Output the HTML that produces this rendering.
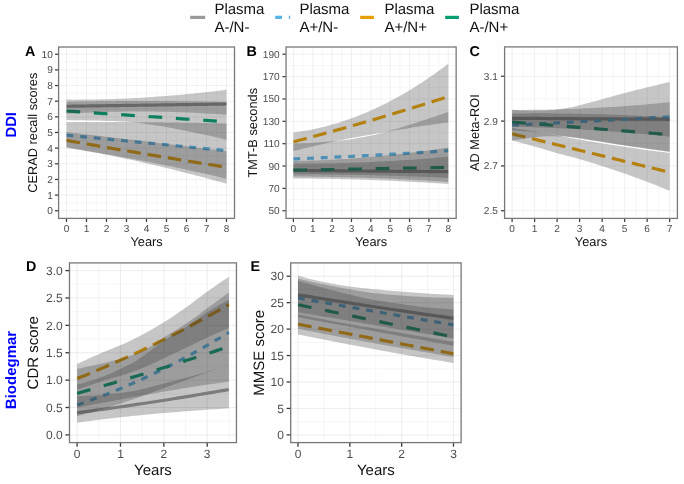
<!DOCTYPE html>
<html><head><meta charset="utf-8"><title>Figure</title>
<style>html,body{margin:0;padding:0;background:#fefefe;}body{width:684px;height:484px;overflow:hidden;font-family:"Liberation Sans", sans-serif;}svg{display:block;will-change:transform;text-rendering:geometricPrecision;}</style></head>
<body>
<svg width="684" height="484" viewBox="0 0 684 484" font-family='"Liberation Sans", sans-serif'>
<rect width="684" height="484" fill="#fefefe"/>
<line x1="190.20" x2="205.20" y1="17.4" y2="17.4" stroke="#999999" stroke-width="3.2"/>
<text x="214.40" y="13.7" font-size="15" fill="#111">Plasma</text>
<text x="214.40" y="31.7" font-size="15" fill="#111">A-/N-</text>
<line x1="275.20" x2="290.20" y1="17.4" y2="17.4" stroke="#56B4E9" stroke-width="3.2" stroke-dasharray="6.85 6.85"/>
<text x="299.40" y="13.7" font-size="15" fill="#111">Plasma</text>
<text x="299.40" y="31.7" font-size="15" fill="#111">A+/N-</text>
<line x1="360.20" x2="375.20" y1="17.4" y2="17.4" stroke="#E69F00" stroke-width="3.2" stroke-dasharray="13.7 6.85"/>
<text x="384.40" y="13.7" font-size="15" fill="#111">Plasma</text>
<text x="384.40" y="31.7" font-size="15" fill="#111">A+/N+</text>
<line x1="445.20" x2="460.20" y1="17.4" y2="17.4" stroke="#009E73" stroke-width="3.2" stroke-dasharray="13.7 13.7"/>
<text x="469.40" y="13.7" font-size="15" fill="#111">Plasma</text>
<text x="469.40" y="31.7" font-size="15" fill="#111">A-/N+</text>
<g>
<rect x="58.6" y="47.0" width="175.90" height="171.40" fill="#ffffff"/>
<line x1="58.6" x2="234.5" y1="202.93" y2="202.93" stroke="#efefef" stroke-width="0.5"/>
<line x1="58.6" x2="234.5" y1="187.28" y2="187.28" stroke="#efefef" stroke-width="0.5"/>
<line x1="58.6" x2="234.5" y1="171.62" y2="171.62" stroke="#efefef" stroke-width="0.5"/>
<line x1="58.6" x2="234.5" y1="155.97" y2="155.97" stroke="#efefef" stroke-width="0.5"/>
<line x1="58.6" x2="234.5" y1="140.32" y2="140.32" stroke="#efefef" stroke-width="0.5"/>
<line x1="58.6" x2="234.5" y1="124.67" y2="124.67" stroke="#efefef" stroke-width="0.5"/>
<line x1="58.6" x2="234.5" y1="109.02" y2="109.02" stroke="#efefef" stroke-width="0.5"/>
<line x1="58.6" x2="234.5" y1="93.38" y2="93.38" stroke="#efefef" stroke-width="0.5"/>
<line x1="58.6" x2="234.5" y1="77.72" y2="77.72" stroke="#efefef" stroke-width="0.5"/>
<line x1="58.6" x2="234.5" y1="62.07" y2="62.07" stroke="#efefef" stroke-width="0.5"/>
<line y1="47.0" y2="218.4" x1="76.50" x2="76.50" stroke="#efefef" stroke-width="0.5"/>
<line y1="47.0" y2="218.4" x1="96.50" x2="96.50" stroke="#efefef" stroke-width="0.5"/>
<line y1="47.0" y2="218.4" x1="116.50" x2="116.50" stroke="#efefef" stroke-width="0.5"/>
<line y1="47.0" y2="218.4" x1="136.50" x2="136.50" stroke="#efefef" stroke-width="0.5"/>
<line y1="47.0" y2="218.4" x1="156.50" x2="156.50" stroke="#efefef" stroke-width="0.5"/>
<line y1="47.0" y2="218.4" x1="176.50" x2="176.50" stroke="#efefef" stroke-width="0.5"/>
<line y1="47.0" y2="218.4" x1="196.50" x2="196.50" stroke="#efefef" stroke-width="0.5"/>
<line y1="47.0" y2="218.4" x1="216.50" x2="216.50" stroke="#efefef" stroke-width="0.5"/>
<line x1="58.6" x2="234.5" y1="210.75" y2="210.75" stroke="#e9e9e9" stroke-width="0.7"/>
<line x1="58.6" x2="234.5" y1="195.10" y2="195.10" stroke="#e9e9e9" stroke-width="0.7"/>
<line x1="58.6" x2="234.5" y1="179.45" y2="179.45" stroke="#e9e9e9" stroke-width="0.7"/>
<line x1="58.6" x2="234.5" y1="163.80" y2="163.80" stroke="#e9e9e9" stroke-width="0.7"/>
<line x1="58.6" x2="234.5" y1="148.15" y2="148.15" stroke="#e9e9e9" stroke-width="0.7"/>
<line x1="58.6" x2="234.5" y1="132.50" y2="132.50" stroke="#e9e9e9" stroke-width="0.7"/>
<line x1="58.6" x2="234.5" y1="116.85" y2="116.85" stroke="#e9e9e9" stroke-width="0.7"/>
<line x1="58.6" x2="234.5" y1="101.20" y2="101.20" stroke="#e9e9e9" stroke-width="0.7"/>
<line x1="58.6" x2="234.5" y1="85.55" y2="85.55" stroke="#e9e9e9" stroke-width="0.7"/>
<line x1="58.6" x2="234.5" y1="69.90" y2="69.90" stroke="#e9e9e9" stroke-width="0.7"/>
<line x1="58.6" x2="234.5" y1="54.25" y2="54.25" stroke="#e9e9e9" stroke-width="0.7"/>
<line y1="47.0" y2="218.4" x1="66.50" x2="66.50" stroke="#e9e9e9" stroke-width="0.7"/>
<line y1="47.0" y2="218.4" x1="86.50" x2="86.50" stroke="#e9e9e9" stroke-width="0.7"/>
<line y1="47.0" y2="218.4" x1="106.50" x2="106.50" stroke="#e9e9e9" stroke-width="0.7"/>
<line y1="47.0" y2="218.4" x1="126.50" x2="126.50" stroke="#e9e9e9" stroke-width="0.7"/>
<line y1="47.0" y2="218.4" x1="146.50" x2="146.50" stroke="#e9e9e9" stroke-width="0.7"/>
<line y1="47.0" y2="218.4" x1="166.50" x2="166.50" stroke="#e9e9e9" stroke-width="0.7"/>
<line y1="47.0" y2="218.4" x1="186.50" x2="186.50" stroke="#e9e9e9" stroke-width="0.7"/>
<line y1="47.0" y2="218.4" x1="206.50" x2="206.50" stroke="#e9e9e9" stroke-width="0.7"/>
<line y1="47.0" y2="218.4" x1="226.50" x2="226.50" stroke="#e9e9e9" stroke-width="0.7"/>
<path d="M66.50,106.30 L69.90,106.25 L73.31,106.20 L76.71,106.15 L80.12,106.10 L83.52,106.06 L86.93,106.01 L90.33,105.96 L93.73,105.91 L97.14,105.86 L100.54,105.81 L103.95,105.76 L107.35,105.71 L110.76,105.66 L114.16,105.61 L117.56,105.57 L120.97,105.52 L124.37,105.47 L127.78,105.42 L131.18,105.37 L134.59,105.32 L137.99,105.27 L141.39,105.22 L144.80,105.17 L148.20,105.13 L151.61,105.08 L155.01,105.03 L158.41,104.98 L161.82,104.93 L165.22,104.88 L168.63,104.83 L172.03,104.78 L175.44,104.73 L178.84,104.69 L182.24,104.64 L185.65,104.59 L189.05,104.54 L192.46,104.49 L195.86,104.44 L199.27,104.39 L202.67,104.34 L206.07,104.29 L209.48,104.24 L212.88,104.20 L216.29,104.15 L219.69,104.10 L223.10,104.05 L226.50,104.00" fill="none" stroke="#999999" stroke-width="3.2" stroke-linejoin="round"/>
<path d="M66.50,135.20 L69.90,135.53 L73.31,135.86 L76.71,136.18 L80.12,136.51 L83.52,136.84 L86.93,137.17 L90.33,137.49 L93.73,137.82 L97.14,138.15 L100.54,138.48 L103.95,138.80 L107.35,139.13 L110.76,139.46 L114.16,139.79 L117.56,140.11 L120.97,140.44 L124.37,140.77 L127.78,141.10 L131.18,141.43 L134.59,141.75 L137.99,142.08 L141.39,142.41 L144.80,142.74 L148.20,143.06 L151.61,143.39 L155.01,143.72 L158.41,144.05 L161.82,144.37 L165.22,144.70 L168.63,145.03 L172.03,145.36 L175.44,145.69 L178.84,146.01 L182.24,146.34 L185.65,146.67 L189.05,147.00 L192.46,147.32 L195.86,147.65 L199.27,147.98 L202.67,148.31 L206.07,148.63 L209.48,148.96 L212.88,149.29 L216.29,149.62 L219.69,149.94 L223.10,150.27 L226.50,150.60" fill="none" stroke="#56B4E9" stroke-width="3.2" stroke-linejoin="round" stroke-dasharray="6.850 6.850"/>
<path d="M66.50,140.40 L69.90,141.00 L73.31,141.61 L76.71,142.21 L80.12,142.81 L83.52,143.40 L86.93,144.00 L90.33,144.59 L93.73,145.19 L97.14,145.78 L100.54,146.37 L103.95,146.96 L107.35,147.55 L110.76,148.13 L114.16,148.72 L117.56,149.30 L120.97,149.88 L124.37,150.46 L127.78,151.04 L131.18,151.62 L134.59,152.20 L137.99,152.77 L141.39,153.34 L144.80,153.91 L148.20,154.48 L151.61,155.05 L155.01,155.62 L158.41,156.19 L161.82,156.75 L165.22,157.31 L168.63,157.88 L172.03,158.44 L175.44,158.99 L178.84,159.55 L182.24,160.11 L185.65,160.66 L189.05,161.21 L192.46,161.77 L195.86,162.32 L199.27,162.86 L202.67,163.41 L206.07,163.96 L209.48,164.50 L212.88,165.04 L216.29,165.58 L219.69,166.12 L223.10,166.66 L226.50,167.20" fill="none" stroke="#E69F00" stroke-width="3.2" stroke-linejoin="round" stroke-dasharray="13.700 6.850"/>
<path d="M66.50,111.00 L69.90,111.23 L73.31,111.46 L76.71,111.69 L80.12,111.92 L83.52,112.15 L86.93,112.38 L90.33,112.61 L93.73,112.84 L97.14,113.07 L100.54,113.30 L103.95,113.53 L107.35,113.76 L110.76,113.99 L114.16,114.22 L117.56,114.45 L120.97,114.68 L124.37,114.91 L127.78,115.14 L131.18,115.37 L134.59,115.60 L137.99,115.83 L141.39,116.06 L144.80,116.29 L148.20,116.51 L151.61,116.74 L155.01,116.97 L158.41,117.20 L161.82,117.43 L165.22,117.66 L168.63,117.89 L172.03,118.12 L175.44,118.35 L178.84,118.58 L182.24,118.81 L185.65,119.04 L189.05,119.27 L192.46,119.50 L195.86,119.73 L199.27,119.96 L202.67,120.19 L206.07,120.42 L209.48,120.65 L212.88,120.88 L216.29,121.11 L219.69,121.34 L223.10,121.57 L226.50,121.80" fill="none" stroke="#009E73" stroke-width="3.2" stroke-linejoin="round" stroke-dasharray="13.700 13.700"/>
<path d="M66.50,99.60 L69.90,99.62 L73.31,99.63 L76.71,99.63 L80.12,99.61 L83.52,99.59 L86.93,99.56 L90.33,99.52 L93.73,99.47 L97.14,99.41 L100.54,99.34 L103.95,99.25 L107.35,99.16 L110.76,99.06 L114.16,98.95 L117.56,98.83 L120.97,98.70 L124.37,98.56 L127.78,98.41 L131.18,98.25 L134.59,98.08 L137.99,97.90 L141.39,97.70 L144.80,97.50 L148.20,97.29 L151.61,97.07 L155.01,96.84 L158.41,96.60 L161.82,96.35 L165.22,96.09 L168.63,95.82 L172.03,95.54 L175.44,95.25 L178.84,94.95 L182.24,94.64 L185.65,94.32 L189.05,93.99 L192.46,93.65 L195.86,93.30 L199.27,92.94 L202.67,92.57 L206.07,92.19 L209.48,91.80 L212.88,91.40 L216.29,90.99 L219.69,90.57 L223.10,90.14 L226.50,89.70 L226.50,114.80 L223.10,114.55 L219.69,114.30 L216.29,114.07 L212.88,113.84 L209.48,113.63 L206.07,113.43 L202.67,113.23 L199.27,113.05 L195.86,112.87 L192.46,112.71 L189.05,112.56 L185.65,112.42 L182.24,112.28 L178.84,112.16 L175.44,112.05 L172.03,111.94 L168.63,111.85 L165.22,111.77 L161.82,111.70 L158.41,111.64 L155.01,111.58 L151.61,111.54 L148.20,111.51 L144.80,111.49 L141.39,111.48 L137.99,111.48 L134.59,111.49 L131.18,111.51 L127.78,111.54 L124.37,111.58 L120.97,111.63 L117.56,111.69 L114.16,111.76 L110.76,111.84 L107.35,111.93 L103.95,112.03 L100.54,112.14 L97.14,112.26 L93.73,112.39 L90.33,112.53 L86.93,112.68 L83.52,112.84 L80.12,113.01 L76.71,113.19 L73.31,113.39 L69.90,113.59 L66.50,113.80 Z" fill="#333333" fill-opacity="0.28"/>
<path d="M66.50,122.00 L69.90,121.99 L73.31,121.97 L76.71,121.96 L80.12,121.96 L83.52,121.95 L86.93,121.95 L90.33,121.94 L93.73,121.94 L97.14,121.95 L100.54,121.95 L103.95,121.96 L107.35,121.96 L110.76,121.97 L114.16,121.99 L117.56,122.00 L120.97,122.02 L124.37,122.03 L127.78,122.05 L131.18,122.08 L134.59,122.10 L137.99,122.13 L141.39,122.15 L144.80,122.18 L148.20,122.22 L151.61,122.25 L155.01,122.29 L158.41,122.32 L161.82,122.36 L165.22,122.41 L168.63,122.45 L172.03,122.50 L175.44,122.54 L178.84,122.59 L182.24,122.64 L185.65,122.70 L189.05,122.75 L192.46,122.81 L195.86,122.87 L199.27,122.93 L202.67,123.00 L206.07,123.06 L209.48,123.13 L212.88,123.20 L216.29,123.27 L219.69,123.35 L223.10,123.42 L226.50,123.50 L226.50,178.75 L223.10,177.94 L219.69,177.13 L216.29,176.33 L212.88,175.54 L209.48,174.76 L206.07,173.98 L202.67,173.21 L199.27,172.45 L195.86,171.69 L192.46,170.94 L189.05,170.20 L185.65,169.46 L182.24,168.73 L178.84,168.01 L175.44,167.29 L172.03,166.59 L168.63,165.89 L165.22,165.19 L161.82,164.51 L158.41,163.83 L155.01,163.15 L151.61,162.49 L148.20,161.83 L144.80,161.17 L141.39,160.53 L137.99,159.89 L134.59,159.26 L131.18,158.64 L127.78,158.02 L124.37,157.41 L120.97,156.81 L117.56,156.21 L114.16,155.62 L110.76,155.04 L107.35,154.46 L103.95,153.89 L100.54,153.33 L97.14,152.78 L93.73,152.23 L90.33,151.69 L86.93,151.16 L83.52,150.63 L80.12,150.11 L76.71,149.60 L73.31,149.09 L69.90,148.59 L66.50,148.10 Z" fill="#333333" fill-opacity="0.28"/>
<path d="M66.50,132.20 L69.90,132.59 L73.31,132.97 L76.71,133.36 L80.12,133.75 L83.52,134.14 L86.93,134.53 L90.33,134.92 L93.73,135.32 L97.14,135.71 L100.54,136.10 L103.95,136.50 L107.35,136.89 L110.76,137.29 L114.16,137.69 L117.56,138.08 L120.97,138.48 L124.37,138.88 L127.78,139.28 L131.18,139.68 L134.59,140.09 L137.99,140.49 L141.39,140.89 L144.80,141.30 L148.20,141.70 L151.61,142.11 L155.01,142.52 L158.41,142.92 L161.82,143.33 L165.22,143.74 L168.63,144.15 L172.03,144.56 L175.44,144.97 L178.84,145.39 L182.24,145.80 L185.65,146.22 L189.05,146.63 L192.46,147.05 L195.86,147.46 L199.27,147.88 L202.67,148.30 L206.07,148.72 L209.48,149.14 L212.88,149.56 L216.29,149.98 L219.69,150.40 L223.10,150.83 L226.50,151.25 L226.50,183.75 L223.10,182.79 L219.69,181.84 L216.29,180.90 L212.88,179.97 L209.48,179.04 L206.07,178.12 L202.67,177.21 L199.27,176.31 L195.86,175.42 L192.46,174.53 L189.05,173.65 L185.65,172.78 L182.24,171.91 L178.84,171.06 L175.44,170.21 L172.03,169.36 L168.63,168.53 L165.22,167.71 L161.82,166.89 L158.41,166.08 L155.01,165.27 L151.61,164.48 L148.20,163.69 L144.80,162.91 L141.39,162.14 L137.99,161.37 L134.59,160.62 L131.18,159.87 L127.78,159.13 L124.37,158.39 L120.97,157.67 L117.56,156.95 L114.16,156.24 L110.76,155.54 L107.35,154.84 L103.95,154.15 L100.54,153.47 L97.14,152.80 L93.73,152.14 L90.33,151.48 L86.93,150.83 L83.52,150.19 L80.12,149.56 L76.71,148.93 L73.31,148.31 L69.90,147.70 L66.50,147.10 Z" fill="#333333" fill-opacity="0.28"/>
<path d="M66.50,101.90 L69.90,101.82 L73.31,101.75 L76.71,101.68 L80.12,101.61 L83.52,101.55 L86.93,101.49 L90.33,101.43 L93.73,101.38 L97.14,101.33 L100.54,101.28 L103.95,101.24 L107.35,101.20 L110.76,101.17 L114.16,101.14 L117.56,101.11 L120.97,101.08 L124.37,101.06 L127.78,101.04 L131.18,101.03 L134.59,101.01 L137.99,101.01 L141.39,101.00 L144.80,101.00 L148.20,101.00 L151.61,101.01 L155.01,101.02 L158.41,101.03 L161.82,101.04 L165.22,101.06 L168.63,101.09 L172.03,101.11 L175.44,101.14 L178.84,101.18 L182.24,101.21 L185.65,101.25 L189.05,101.30 L192.46,101.34 L195.86,101.39 L199.27,101.45 L202.67,101.50 L206.07,101.56 L209.48,101.63 L212.88,101.70 L216.29,101.77 L219.69,101.84 L223.10,101.92 L226.50,102.00 L226.50,139.70 L223.10,138.90 L219.69,138.12 L216.29,137.35 L212.88,136.58 L209.48,135.83 L206.07,135.08 L202.67,134.35 L199.27,133.63 L195.86,132.91 L192.46,132.21 L189.05,131.51 L185.65,130.83 L182.24,130.14 L178.84,129.46 L175.44,128.78 L172.03,128.11 L168.63,127.46 L165.22,126.84 L161.82,126.25 L158.41,125.69 L155.01,125.18 L151.61,124.67 L148.20,124.16 L144.80,123.66 L141.39,123.19 L137.99,122.76 L134.59,122.37 L131.18,122.04 L127.78,121.78 L124.37,121.58 L120.97,121.41 L117.56,121.26 L114.16,121.12 L110.76,121.00 L107.35,120.89 L103.95,120.79 L100.54,120.70 L97.14,120.61 L93.73,120.54 L90.33,120.46 L86.93,120.39 L83.52,120.33 L80.12,120.27 L76.71,120.21 L73.31,120.17 L69.90,120.13 L66.50,120.10 Z" fill="#333333" fill-opacity="0.28"/>
<rect x="58.6" y="47.0" width="175.90" height="171.40" fill="none" stroke="#787878" stroke-width="1.3"/>
<line x1="55.00" x2="58.10" y1="210.75" y2="210.75" stroke="#3c3c3c" stroke-width="1.25"/>
<text x="52.80" y="214.26" font-size="10.1" fill="#4d4d4d" text-anchor="end">0</text>
<line x1="55.00" x2="58.10" y1="195.10" y2="195.10" stroke="#3c3c3c" stroke-width="1.25"/>
<text x="52.80" y="198.61" font-size="10.1" fill="#4d4d4d" text-anchor="end">1</text>
<line x1="55.00" x2="58.10" y1="179.45" y2="179.45" stroke="#3c3c3c" stroke-width="1.25"/>
<text x="52.80" y="182.96" font-size="10.1" fill="#4d4d4d" text-anchor="end">2</text>
<line x1="55.00" x2="58.10" y1="163.80" y2="163.80" stroke="#3c3c3c" stroke-width="1.25"/>
<text x="52.80" y="167.31" font-size="10.1" fill="#4d4d4d" text-anchor="end">3</text>
<line x1="55.00" x2="58.10" y1="148.15" y2="148.15" stroke="#3c3c3c" stroke-width="1.25"/>
<text x="52.80" y="151.66" font-size="10.1" fill="#4d4d4d" text-anchor="end">4</text>
<line x1="55.00" x2="58.10" y1="132.50" y2="132.50" stroke="#3c3c3c" stroke-width="1.25"/>
<text x="52.80" y="136.01" font-size="10.1" fill="#4d4d4d" text-anchor="end">5</text>
<line x1="55.00" x2="58.10" y1="116.85" y2="116.85" stroke="#3c3c3c" stroke-width="1.25"/>
<text x="52.80" y="120.36" font-size="10.1" fill="#4d4d4d" text-anchor="end">6</text>
<line x1="55.00" x2="58.10" y1="101.20" y2="101.20" stroke="#3c3c3c" stroke-width="1.25"/>
<text x="52.80" y="104.71" font-size="10.1" fill="#4d4d4d" text-anchor="end">7</text>
<line x1="55.00" x2="58.10" y1="85.55" y2="85.55" stroke="#3c3c3c" stroke-width="1.25"/>
<text x="52.80" y="89.06" font-size="10.1" fill="#4d4d4d" text-anchor="end">8</text>
<line x1="55.00" x2="58.10" y1="69.90" y2="69.90" stroke="#3c3c3c" stroke-width="1.25"/>
<text x="52.80" y="73.41" font-size="10.1" fill="#4d4d4d" text-anchor="end">9</text>
<line x1="55.00" x2="58.10" y1="54.25" y2="54.25" stroke="#3c3c3c" stroke-width="1.25"/>
<text x="52.80" y="57.76" font-size="10.1" fill="#4d4d4d" text-anchor="end">10</text>
<line y1="218.90" y2="222.00" x1="66.50" x2="66.50" stroke="#3c3c3c" stroke-width="1.25"/>
<text x="66.50" y="231.80" font-size="10.1" fill="#4d4d4d" text-anchor="middle">0</text>
<line y1="218.90" y2="222.00" x1="86.50" x2="86.50" stroke="#3c3c3c" stroke-width="1.25"/>
<text x="86.50" y="231.80" font-size="10.1" fill="#4d4d4d" text-anchor="middle">1</text>
<line y1="218.90" y2="222.00" x1="106.50" x2="106.50" stroke="#3c3c3c" stroke-width="1.25"/>
<text x="106.50" y="231.80" font-size="10.1" fill="#4d4d4d" text-anchor="middle">2</text>
<line y1="218.90" y2="222.00" x1="126.50" x2="126.50" stroke="#3c3c3c" stroke-width="1.25"/>
<text x="126.50" y="231.80" font-size="10.1" fill="#4d4d4d" text-anchor="middle">3</text>
<line y1="218.90" y2="222.00" x1="146.50" x2="146.50" stroke="#3c3c3c" stroke-width="1.25"/>
<text x="146.50" y="231.80" font-size="10.1" fill="#4d4d4d" text-anchor="middle">4</text>
<line y1="218.90" y2="222.00" x1="166.50" x2="166.50" stroke="#3c3c3c" stroke-width="1.25"/>
<text x="166.50" y="231.80" font-size="10.1" fill="#4d4d4d" text-anchor="middle">5</text>
<line y1="218.90" y2="222.00" x1="186.50" x2="186.50" stroke="#3c3c3c" stroke-width="1.25"/>
<text x="186.50" y="231.80" font-size="10.1" fill="#4d4d4d" text-anchor="middle">6</text>
<line y1="218.90" y2="222.00" x1="206.50" x2="206.50" stroke="#3c3c3c" stroke-width="1.25"/>
<text x="206.50" y="231.80" font-size="10.1" fill="#4d4d4d" text-anchor="middle">7</text>
<line y1="218.90" y2="222.00" x1="226.50" x2="226.50" stroke="#3c3c3c" stroke-width="1.25"/>
<text x="226.50" y="231.80" font-size="10.1" fill="#4d4d4d" text-anchor="middle">8</text>
<text x="146.55" y="246.40" font-size="12.8" fill="#111" text-anchor="middle">Years</text>
<text transform="translate(36.70,132.70) rotate(-90)" font-size="12.8" fill="#111" text-anchor="middle">CERAD recall scores</text>
<text x="25.10" y="56.30" font-size="14.3" font-weight="bold" fill="#000">A</text>
</g>
<g>
<rect x="286.05" y="47.0" width="170.10" height="171.40" fill="#ffffff"/>
<line x1="286.05" x2="456.15" y1="199.57" y2="199.57" stroke="#efefef" stroke-width="0.5"/>
<line x1="286.05" x2="456.15" y1="177.21" y2="177.21" stroke="#efefef" stroke-width="0.5"/>
<line x1="286.05" x2="456.15" y1="154.86" y2="154.86" stroke="#efefef" stroke-width="0.5"/>
<line x1="286.05" x2="456.15" y1="132.50" y2="132.50" stroke="#efefef" stroke-width="0.5"/>
<line x1="286.05" x2="456.15" y1="110.14" y2="110.14" stroke="#efefef" stroke-width="0.5"/>
<line x1="286.05" x2="456.15" y1="87.78" y2="87.78" stroke="#efefef" stroke-width="0.5"/>
<line x1="286.05" x2="456.15" y1="65.42" y2="65.42" stroke="#efefef" stroke-width="0.5"/>
<line y1="47.0" y2="218.4" x1="303.08" x2="303.08" stroke="#efefef" stroke-width="0.5"/>
<line y1="47.0" y2="218.4" x1="322.44" x2="322.44" stroke="#efefef" stroke-width="0.5"/>
<line y1="47.0" y2="218.4" x1="341.80" x2="341.80" stroke="#efefef" stroke-width="0.5"/>
<line y1="47.0" y2="218.4" x1="361.16" x2="361.16" stroke="#efefef" stroke-width="0.5"/>
<line y1="47.0" y2="218.4" x1="380.52" x2="380.52" stroke="#efefef" stroke-width="0.5"/>
<line y1="47.0" y2="218.4" x1="399.88" x2="399.88" stroke="#efefef" stroke-width="0.5"/>
<line y1="47.0" y2="218.4" x1="419.24" x2="419.24" stroke="#efefef" stroke-width="0.5"/>
<line y1="47.0" y2="218.4" x1="438.60" x2="438.60" stroke="#efefef" stroke-width="0.5"/>
<line x1="286.05" x2="456.15" y1="210.75" y2="210.75" stroke="#e9e9e9" stroke-width="0.7"/>
<line x1="286.05" x2="456.15" y1="188.39" y2="188.39" stroke="#e9e9e9" stroke-width="0.7"/>
<line x1="286.05" x2="456.15" y1="166.03" y2="166.03" stroke="#e9e9e9" stroke-width="0.7"/>
<line x1="286.05" x2="456.15" y1="143.68" y2="143.68" stroke="#e9e9e9" stroke-width="0.7"/>
<line x1="286.05" x2="456.15" y1="121.32" y2="121.32" stroke="#e9e9e9" stroke-width="0.7"/>
<line x1="286.05" x2="456.15" y1="98.96" y2="98.96" stroke="#e9e9e9" stroke-width="0.7"/>
<line x1="286.05" x2="456.15" y1="76.60" y2="76.60" stroke="#e9e9e9" stroke-width="0.7"/>
<line x1="286.05" x2="456.15" y1="54.24" y2="54.24" stroke="#e9e9e9" stroke-width="0.7"/>
<line y1="47.0" y2="218.4" x1="293.40" x2="293.40" stroke="#e9e9e9" stroke-width="0.7"/>
<line y1="47.0" y2="218.4" x1="312.76" x2="312.76" stroke="#e9e9e9" stroke-width="0.7"/>
<line y1="47.0" y2="218.4" x1="332.12" x2="332.12" stroke="#e9e9e9" stroke-width="0.7"/>
<line y1="47.0" y2="218.4" x1="351.48" x2="351.48" stroke="#e9e9e9" stroke-width="0.7"/>
<line y1="47.0" y2="218.4" x1="370.84" x2="370.84" stroke="#e9e9e9" stroke-width="0.7"/>
<line y1="47.0" y2="218.4" x1="390.20" x2="390.20" stroke="#e9e9e9" stroke-width="0.7"/>
<line y1="47.0" y2="218.4" x1="409.56" x2="409.56" stroke="#e9e9e9" stroke-width="0.7"/>
<line y1="47.0" y2="218.4" x1="428.92" x2="428.92" stroke="#e9e9e9" stroke-width="0.7"/>
<line y1="47.0" y2="218.4" x1="448.28" x2="448.28" stroke="#e9e9e9" stroke-width="0.7"/>
<path d="M293.40,170.40 L296.70,170.43 L299.99,170.46 L303.29,170.48 L306.58,170.51 L309.88,170.54 L313.17,170.57 L316.47,170.59 L319.76,170.62 L323.06,170.65 L326.35,170.68 L329.65,170.70 L332.94,170.73 L336.24,170.76 L339.53,170.79 L342.83,170.81 L346.13,170.84 L349.42,170.87 L352.72,170.90 L356.01,170.93 L359.31,170.95 L362.60,170.98 L365.90,171.01 L369.19,171.04 L372.49,171.06 L375.78,171.09 L379.08,171.12 L382.37,171.15 L385.67,171.17 L388.96,171.20 L392.26,171.23 L395.55,171.26 L398.85,171.29 L402.15,171.31 L405.44,171.34 L408.74,171.37 L412.03,171.40 L415.33,171.42 L418.62,171.45 L421.92,171.48 L425.21,171.51 L428.51,171.53 L431.80,171.56 L435.10,171.59 L438.39,171.62 L441.69,171.64 L444.98,171.67 L448.28,171.70" fill="none" stroke="#999999" stroke-width="3.2" stroke-linejoin="round"/>
<path d="M293.40,158.90 L296.70,158.78 L299.99,158.65 L303.29,158.52 L306.58,158.39 L309.88,158.26 L313.17,158.12 L316.47,157.98 L319.76,157.84 L323.06,157.70 L326.35,157.56 L329.65,157.41 L332.94,157.26 L336.24,157.11 L339.53,156.96 L342.83,156.80 L346.13,156.65 L349.42,156.49 L352.72,156.33 L356.01,156.16 L359.31,156.00 L362.60,155.83 L365.90,155.66 L369.19,155.49 L372.49,155.31 L375.78,155.14 L379.08,154.96 L382.37,154.78 L385.67,154.59 L388.96,154.41 L392.26,154.22 L395.55,154.03 L398.85,153.84 L402.15,153.64 L405.44,153.45 L408.74,153.25 L412.03,153.05 L415.33,152.85 L418.62,152.64 L421.92,152.43 L425.21,152.23 L428.51,152.01 L431.80,151.80 L435.10,151.58 L438.39,151.37 L441.69,151.15 L444.98,150.92 L448.28,150.70" fill="none" stroke="#56B4E9" stroke-width="3.2" stroke-linejoin="round" stroke-dasharray="6.850 6.850"/>
<path d="M293.40,141.80 L296.70,140.94 L299.99,140.07 L303.29,139.20 L306.58,138.33 L309.88,137.45 L313.17,136.56 L316.47,135.68 L319.76,134.78 L323.06,133.89 L326.35,132.99 L329.65,132.08 L332.94,131.17 L336.24,130.26 L339.53,129.34 L342.83,128.42 L346.13,127.49 L349.42,126.56 L352.72,125.62 L356.01,124.68 L359.31,123.74 L362.60,122.79 L365.90,121.84 L369.19,120.88 L372.49,119.92 L375.78,118.95 L379.08,117.98 L382.37,117.01 L385.67,116.03 L388.96,115.04 L392.26,114.06 L395.55,113.07 L398.85,112.07 L402.15,111.07 L405.44,110.06 L408.74,109.05 L412.03,108.04 L415.33,107.02 L418.62,106.00 L421.92,104.97 L425.21,103.94 L428.51,102.90 L431.80,101.86 L435.10,100.82 L438.39,99.77 L441.69,98.72 L444.98,97.66 L448.28,96.60" fill="none" stroke="#E69F00" stroke-width="3.2" stroke-linejoin="round" stroke-dasharray="13.700 6.850"/>
<path d="M293.40,170.20 L296.70,170.14 L299.99,170.08 L303.29,170.02 L306.58,169.96 L309.88,169.90 L313.17,169.84 L316.47,169.78 L319.76,169.72 L323.06,169.66 L326.35,169.60 L329.65,169.54 L332.94,169.49 L336.24,169.43 L339.53,169.37 L342.83,169.31 L346.13,169.25 L349.42,169.19 L352.72,169.13 L356.01,169.07 L359.31,169.01 L362.60,168.95 L365.90,168.89 L369.19,168.83 L372.49,168.77 L375.78,168.71 L379.08,168.65 L382.37,168.59 L385.67,168.53 L388.96,168.47 L392.26,168.41 L395.55,168.35 L398.85,168.29 L402.15,168.23 L405.44,168.17 L408.74,168.11 L412.03,168.06 L415.33,168.00 L418.62,167.94 L421.92,167.88 L425.21,167.82 L428.51,167.76 L431.80,167.70 L435.10,167.64 L438.39,167.58 L441.69,167.52 L444.98,167.46 L448.28,167.40" fill="none" stroke="#009E73" stroke-width="3.2" stroke-linejoin="round" stroke-dasharray="13.700 13.700"/>
<path d="M293.40,163.50 L296.70,163.51 L299.99,163.52 L303.29,163.52 L306.58,163.51 L309.88,163.50 L313.17,163.48 L316.47,163.45 L319.76,163.42 L323.06,163.37 L326.35,163.33 L329.65,163.27 L332.94,163.21 L336.24,163.14 L339.53,163.06 L342.83,162.98 L346.13,162.89 L349.42,162.80 L352.72,162.69 L356.01,162.58 L359.31,162.46 L362.60,162.34 L365.90,162.21 L369.19,162.07 L372.49,161.93 L375.78,161.78 L379.08,161.62 L382.37,161.45 L385.67,161.28 L388.96,161.10 L392.26,160.91 L395.55,160.72 L398.85,160.52 L402.15,160.32 L405.44,160.10 L408.74,159.88 L412.03,159.65 L415.33,159.42 L418.62,159.18 L421.92,158.93 L425.21,158.68 L428.51,158.41 L431.80,158.15 L435.10,157.87 L438.39,157.59 L441.69,157.30 L444.98,157.00 L448.28,156.70 L448.28,182.00 L444.98,181.78 L441.69,181.56 L438.39,181.35 L435.10,181.14 L431.80,180.94 L428.51,180.74 L425.21,180.55 L421.92,180.36 L418.62,180.17 L415.33,179.99 L412.03,179.82 L408.74,179.65 L405.44,179.48 L402.15,179.32 L398.85,179.16 L395.55,179.00 L392.26,178.86 L388.96,178.71 L385.67,178.57 L382.37,178.44 L379.08,178.31 L375.78,178.18 L372.49,178.06 L369.19,177.94 L365.90,177.83 L362.60,177.72 L359.31,177.62 L356.01,177.52 L352.72,177.42 L349.42,177.33 L346.13,177.25 L342.83,177.17 L339.53,177.09 L336.24,177.02 L332.94,176.95 L329.65,176.89 L326.35,176.83 L323.06,176.78 L319.76,176.73 L316.47,176.69 L313.17,176.65 L309.88,176.61 L306.58,176.58 L303.29,176.55 L299.99,176.53 L296.70,176.51 L293.40,176.50 Z" fill="#333333" fill-opacity="0.28"/>
<path d="M293.40,143.60 L296.70,143.55 L299.99,143.46 L303.29,143.35 L306.58,143.20 L309.88,143.02 L313.17,142.82 L316.47,142.60 L319.76,142.36 L323.06,142.11 L326.35,141.84 L329.65,141.56 L332.94,141.27 L336.24,140.98 L339.53,140.65 L342.83,140.28 L346.13,139.85 L349.42,139.38 L352.72,138.88 L356.01,138.34 L359.31,137.77 L362.60,137.17 L365.90,136.55 L369.19,135.92 L372.49,135.26 L375.78,134.52 L379.08,133.70 L382.37,132.84 L385.67,131.96 L388.96,131.05 L392.26,130.10 L395.55,129.13 L398.85,128.14 L402.15,127.12 L405.44,126.09 L408.74,125.06 L412.03,124.02 L415.33,122.97 L418.62,121.91 L421.92,120.83 L425.21,119.75 L428.51,118.65 L431.80,117.54 L435.10,116.42 L438.39,115.28 L441.69,114.14 L444.98,112.97 L448.28,111.80 L448.28,177.80 L444.98,177.66 L441.69,177.52 L438.39,177.38 L435.10,177.24 L431.80,177.11 L428.51,176.98 L425.21,176.86 L421.92,176.74 L418.62,176.62 L415.33,176.50 L412.03,176.38 L408.74,176.27 L405.44,176.16 L402.15,176.06 L398.85,175.96 L395.55,175.86 L392.26,175.76 L388.96,175.67 L385.67,175.57 L382.37,175.49 L379.08,175.40 L375.78,175.32 L372.49,175.24 L369.19,175.16 L365.90,175.09 L362.60,175.02 L359.31,174.95 L356.01,174.88 L352.72,174.82 L349.42,174.76 L346.13,174.71 L342.83,174.65 L339.53,174.60 L336.24,174.56 L332.94,174.51 L329.65,174.47 L326.35,174.43 L323.06,174.39 L319.76,174.36 L316.47,174.33 L313.17,174.30 L309.88,174.28 L306.58,174.26 L303.29,174.24 L299.99,174.22 L296.70,174.21 L293.40,174.20 Z" fill="#333333" fill-opacity="0.28"/>
<path d="M293.40,132.50 L296.70,132.07 L299.99,131.59 L303.29,131.07 L306.58,130.51 L309.88,129.90 L313.17,129.24 L316.47,128.54 L319.76,127.79 L323.06,127.00 L326.35,126.17 L329.65,125.29 L332.94,124.36 L336.24,123.39 L339.53,122.38 L342.83,121.32 L346.13,120.22 L349.42,119.07 L352.72,117.87 L356.01,116.63 L359.31,115.35 L362.60,114.02 L365.90,112.65 L369.19,111.23 L372.49,109.76 L375.78,108.25 L379.08,106.70 L382.37,105.10 L385.67,103.46 L388.96,101.77 L392.26,100.04 L395.55,98.26 L398.85,96.44 L402.15,94.57 L405.44,92.65 L408.74,90.70 L412.03,88.69 L415.33,86.65 L418.62,84.55 L421.92,82.42 L425.21,80.23 L428.51,78.01 L431.80,75.73 L435.10,73.42 L438.39,71.06 L441.69,68.65 L444.98,66.20 L448.28,63.70 L448.28,122.40 L444.98,122.84 L441.69,123.28 L438.39,123.74 L435.10,124.20 L431.80,124.67 L428.51,125.14 L425.21,125.62 L421.92,126.11 L418.62,126.61 L415.33,127.11 L412.03,127.61 L408.74,128.13 L405.44,128.65 L402.15,129.19 L398.85,129.73 L395.55,130.28 L392.26,130.84 L388.96,131.41 L385.67,131.98 L382.37,132.56 L379.08,133.14 L375.78,133.72 L372.49,134.31 L369.19,134.89 L365.90,135.48 L362.60,136.07 L359.31,136.66 L356.01,137.25 L352.72,137.85 L349.42,138.46 L346.13,139.09 L342.83,139.72 L339.53,140.38 L336.24,141.05 L332.94,141.74 L329.65,142.44 L326.35,143.16 L323.06,143.89 L319.76,144.64 L316.47,145.40 L313.17,146.17 L309.88,146.96 L306.58,147.76 L303.29,148.58 L299.99,149.40 L296.70,150.25 L293.40,151.10 Z" fill="#333333" fill-opacity="0.28"/>
<path d="M293.40,161.00 L296.70,160.94 L299.99,160.88 L303.29,160.80 L306.58,160.71 L309.88,160.62 L313.17,160.51 L316.47,160.39 L319.76,160.27 L323.06,160.13 L326.35,159.98 L329.65,159.82 L332.94,159.66 L336.24,159.48 L339.53,159.29 L342.83,159.09 L346.13,158.89 L349.42,158.67 L352.72,158.44 L356.01,158.20 L359.31,157.95 L362.60,157.69 L365.90,157.42 L369.19,157.14 L372.49,156.85 L375.78,156.55 L379.08,156.24 L382.37,155.93 L385.67,155.60 L388.96,155.26 L392.26,154.90 L395.55,154.54 L398.85,154.17 L402.15,153.79 L405.44,153.40 L408.74,153.00 L412.03,152.59 L415.33,152.17 L418.62,151.74 L421.92,151.30 L425.21,150.85 L428.51,150.38 L431.80,149.91 L435.10,149.43 L438.39,148.94 L441.69,148.44 L444.98,147.92 L448.28,147.40 L448.28,184.00 L444.98,183.78 L441.69,183.57 L438.39,183.36 L435.10,183.15 L431.80,182.95 L428.51,182.75 L425.21,182.56 L421.92,182.37 L418.62,182.18 L415.33,182.00 L412.03,181.83 L408.74,181.66 L405.44,181.49 L402.15,181.33 L398.85,181.17 L395.55,181.02 L392.26,180.87 L388.96,180.72 L385.67,180.58 L382.37,180.44 L379.08,180.31 L375.78,180.18 L372.49,180.06 L369.19,179.94 L365.90,179.83 L362.60,179.72 L359.31,179.61 L356.01,179.51 L352.72,179.41 L349.42,179.32 L346.13,179.23 L342.83,179.14 L339.53,179.06 L336.24,178.99 L332.94,178.92 L329.65,178.85 L326.35,178.79 L323.06,178.73 L319.76,178.68 L316.47,178.63 L313.17,178.58 L309.88,178.54 L306.58,178.50 L303.29,178.47 L299.99,178.44 L296.70,178.42 L293.40,178.40 Z" fill="#333333" fill-opacity="0.28"/>
<rect x="286.05" y="47.0" width="170.10" height="171.40" fill="none" stroke="#787878" stroke-width="1.3"/>
<line x1="282.45" x2="285.55" y1="210.75" y2="210.75" stroke="#3c3c3c" stroke-width="1.25"/>
<text x="279.65" y="214.26" font-size="10.1" fill="#4d4d4d" text-anchor="end">50</text>
<line x1="282.45" x2="285.55" y1="188.39" y2="188.39" stroke="#3c3c3c" stroke-width="1.25"/>
<text x="279.65" y="191.91" font-size="10.1" fill="#4d4d4d" text-anchor="end">70</text>
<line x1="282.45" x2="285.55" y1="166.03" y2="166.03" stroke="#3c3c3c" stroke-width="1.25"/>
<text x="279.65" y="169.55" font-size="10.1" fill="#4d4d4d" text-anchor="end">90</text>
<line x1="282.45" x2="285.55" y1="143.68" y2="143.68" stroke="#3c3c3c" stroke-width="1.25"/>
<text x="279.65" y="147.19" font-size="10.1" fill="#4d4d4d" text-anchor="end">110</text>
<line x1="282.45" x2="285.55" y1="121.32" y2="121.32" stroke="#3c3c3c" stroke-width="1.25"/>
<text x="279.65" y="124.83" font-size="10.1" fill="#4d4d4d" text-anchor="end">130</text>
<line x1="282.45" x2="285.55" y1="98.96" y2="98.96" stroke="#3c3c3c" stroke-width="1.25"/>
<text x="279.65" y="102.47" font-size="10.1" fill="#4d4d4d" text-anchor="end">150</text>
<line x1="282.45" x2="285.55" y1="76.60" y2="76.60" stroke="#3c3c3c" stroke-width="1.25"/>
<text x="279.65" y="80.12" font-size="10.1" fill="#4d4d4d" text-anchor="end">170</text>
<line x1="282.45" x2="285.55" y1="54.24" y2="54.24" stroke="#3c3c3c" stroke-width="1.25"/>
<text x="279.65" y="57.76" font-size="10.1" fill="#4d4d4d" text-anchor="end">190</text>
<line y1="218.90" y2="222.00" x1="293.40" x2="293.40" stroke="#3c3c3c" stroke-width="1.25"/>
<text x="293.40" y="231.80" font-size="10.1" fill="#4d4d4d" text-anchor="middle">0</text>
<line y1="218.90" y2="222.00" x1="312.76" x2="312.76" stroke="#3c3c3c" stroke-width="1.25"/>
<text x="312.76" y="231.80" font-size="10.1" fill="#4d4d4d" text-anchor="middle">1</text>
<line y1="218.90" y2="222.00" x1="332.12" x2="332.12" stroke="#3c3c3c" stroke-width="1.25"/>
<text x="332.12" y="231.80" font-size="10.1" fill="#4d4d4d" text-anchor="middle">2</text>
<line y1="218.90" y2="222.00" x1="351.48" x2="351.48" stroke="#3c3c3c" stroke-width="1.25"/>
<text x="351.48" y="231.80" font-size="10.1" fill="#4d4d4d" text-anchor="middle">3</text>
<line y1="218.90" y2="222.00" x1="370.84" x2="370.84" stroke="#3c3c3c" stroke-width="1.25"/>
<text x="370.84" y="231.80" font-size="10.1" fill="#4d4d4d" text-anchor="middle">4</text>
<line y1="218.90" y2="222.00" x1="390.20" x2="390.20" stroke="#3c3c3c" stroke-width="1.25"/>
<text x="390.20" y="231.80" font-size="10.1" fill="#4d4d4d" text-anchor="middle">5</text>
<line y1="218.90" y2="222.00" x1="409.56" x2="409.56" stroke="#3c3c3c" stroke-width="1.25"/>
<text x="409.56" y="231.80" font-size="10.1" fill="#4d4d4d" text-anchor="middle">6</text>
<line y1="218.90" y2="222.00" x1="428.92" x2="428.92" stroke="#3c3c3c" stroke-width="1.25"/>
<text x="428.92" y="231.80" font-size="10.1" fill="#4d4d4d" text-anchor="middle">7</text>
<line y1="218.90" y2="222.00" x1="448.28" x2="448.28" stroke="#3c3c3c" stroke-width="1.25"/>
<text x="448.28" y="231.80" font-size="10.1" fill="#4d4d4d" text-anchor="middle">8</text>
<text x="371.10" y="246.40" font-size="12.8" fill="#111" text-anchor="middle">Years</text>
<text transform="translate(257.30,132.70) rotate(-90)" font-size="12.8" fill="#111" text-anchor="middle">TMT-B seconds</text>
<text x="246.60" y="56.30" font-size="14.3" font-weight="bold" fill="#000">B</text>
</g>
<g>
<rect x="504.6" y="46.9" width="172.80" height="171.50" fill="#ffffff"/>
<line x1="504.6" x2="677.4" y1="188.33" y2="188.33" stroke="#efefef" stroke-width="0.5"/>
<line x1="504.6" x2="677.4" y1="143.51" y2="143.51" stroke="#efefef" stroke-width="0.5"/>
<line x1="504.6" x2="677.4" y1="98.67" y2="98.67" stroke="#efefef" stroke-width="0.5"/>
<line x1="504.6" x2="677.4" y1="53.84" y2="53.84" stroke="#efefef" stroke-width="0.5"/>
<line y1="46.9" y2="218.4" x1="523.36" x2="523.36" stroke="#efefef" stroke-width="0.5"/>
<line y1="46.9" y2="218.4" x1="545.87" x2="545.87" stroke="#efefef" stroke-width="0.5"/>
<line y1="46.9" y2="218.4" x1="568.38" x2="568.38" stroke="#efefef" stroke-width="0.5"/>
<line y1="46.9" y2="218.4" x1="590.88" x2="590.88" stroke="#efefef" stroke-width="0.5"/>
<line y1="46.9" y2="218.4" x1="613.39" x2="613.39" stroke="#efefef" stroke-width="0.5"/>
<line y1="46.9" y2="218.4" x1="635.90" x2="635.90" stroke="#efefef" stroke-width="0.5"/>
<line y1="46.9" y2="218.4" x1="658.41" x2="658.41" stroke="#efefef" stroke-width="0.5"/>
<line x1="504.6" x2="677.4" y1="210.75" y2="210.75" stroke="#e9e9e9" stroke-width="0.7"/>
<line x1="504.6" x2="677.4" y1="165.92" y2="165.92" stroke="#e9e9e9" stroke-width="0.7"/>
<line x1="504.6" x2="677.4" y1="121.09" y2="121.09" stroke="#e9e9e9" stroke-width="0.7"/>
<line x1="504.6" x2="677.4" y1="76.26" y2="76.26" stroke="#e9e9e9" stroke-width="0.7"/>
<line y1="46.9" y2="218.4" x1="512.10" x2="512.10" stroke="#e9e9e9" stroke-width="0.7"/>
<line y1="46.9" y2="218.4" x1="534.61" x2="534.61" stroke="#e9e9e9" stroke-width="0.7"/>
<line y1="46.9" y2="218.4" x1="557.12" x2="557.12" stroke="#e9e9e9" stroke-width="0.7"/>
<line y1="46.9" y2="218.4" x1="579.63" x2="579.63" stroke="#e9e9e9" stroke-width="0.7"/>
<line y1="46.9" y2="218.4" x1="602.14" x2="602.14" stroke="#e9e9e9" stroke-width="0.7"/>
<line y1="46.9" y2="218.4" x1="624.65" x2="624.65" stroke="#e9e9e9" stroke-width="0.7"/>
<line y1="46.9" y2="218.4" x1="647.16" x2="647.16" stroke="#e9e9e9" stroke-width="0.7"/>
<line y1="46.9" y2="218.4" x1="669.67" x2="669.67" stroke="#e9e9e9" stroke-width="0.7"/>
<path d="M512.10,118.30 L515.45,118.32 L518.81,118.34 L522.16,118.36 L525.51,118.39 L528.86,118.41 L532.22,118.43 L535.57,118.45 L538.92,118.47 L542.27,118.49 L545.63,118.51 L548.98,118.53 L552.33,118.56 L555.68,118.58 L559.04,118.60 L562.39,118.62 L565.74,118.64 L569.09,118.66 L572.45,118.68 L575.80,118.70 L579.15,118.73 L582.50,118.75 L585.86,118.77 L589.21,118.79 L592.56,118.81 L595.91,118.83 L599.27,118.85 L602.62,118.87 L605.97,118.90 L609.32,118.92 L612.68,118.94 L616.03,118.96 L619.38,118.98 L622.73,119.00 L626.09,119.02 L629.44,119.04 L632.79,119.07 L636.14,119.09 L639.50,119.11 L642.85,119.13 L646.20,119.15 L649.55,119.17 L652.91,119.19 L656.26,119.21 L659.61,119.24 L662.96,119.26 L666.32,119.28 L669.67,119.30" fill="none" stroke="#999999" stroke-width="3.2" stroke-linejoin="round"/>
<path d="M512.10,125.20 L515.45,125.02 L518.81,124.85 L522.16,124.67 L525.51,124.49 L528.86,124.32 L532.22,124.14 L535.57,123.96 L538.92,123.79 L542.27,123.61 L545.63,123.43 L548.98,123.26 L552.33,123.08 L555.68,122.90 L559.04,122.73 L562.39,122.55 L565.74,122.37 L569.09,122.20 L572.45,122.02 L575.80,121.84 L579.15,121.67 L582.50,121.49 L585.86,121.31 L589.21,121.14 L592.56,120.96 L595.91,120.79 L599.27,120.61 L602.62,120.43 L605.97,120.26 L609.32,120.08 L612.68,119.90 L616.03,119.73 L619.38,119.55 L622.73,119.37 L626.09,119.20 L629.44,119.02 L632.79,118.84 L636.14,118.67 L639.50,118.49 L642.85,118.31 L646.20,118.14 L649.55,117.96 L652.91,117.78 L656.26,117.61 L659.61,117.43 L662.96,117.25 L666.32,117.08 L669.67,116.90" fill="none" stroke="#56B4E9" stroke-width="3.2" stroke-linejoin="round" stroke-dasharray="6.850 6.850"/>
<path d="M512.10,133.80 L515.45,134.62 L518.81,135.44 L522.16,136.26 L525.51,137.08 L528.86,137.90 L532.22,138.71 L535.57,139.53 L538.92,140.35 L542.27,141.17 L545.63,141.99 L548.98,142.81 L552.33,143.63 L555.68,144.45 L559.04,145.27 L562.39,146.09 L565.74,146.91 L569.09,147.73 L572.45,148.54 L575.80,149.36 L579.15,150.18 L582.50,151.00 L585.86,151.82 L589.21,152.64 L592.56,153.46 L595.91,154.28 L599.27,155.10 L602.62,155.92 L605.97,156.74 L609.32,157.56 L612.68,158.37 L616.03,159.19 L619.38,160.01 L622.73,160.83 L626.09,161.65 L629.44,162.47 L632.79,163.29 L636.14,164.11 L639.50,164.93 L642.85,165.75 L646.20,166.57 L649.55,167.39 L652.91,168.20 L656.26,169.02 L659.61,169.84 L662.96,170.66 L666.32,171.48 L669.67,172.30" fill="none" stroke="#E69F00" stroke-width="3.2" stroke-linejoin="round" stroke-dasharray="13.700 6.850"/>
<path d="M512.10,122.00 L515.45,122.27 L518.81,122.54 L522.16,122.80 L525.51,123.07 L528.86,123.34 L532.22,123.61 L535.57,123.88 L538.92,124.14 L542.27,124.41 L545.63,124.68 L548.98,124.95 L552.33,125.22 L555.68,125.49 L559.04,125.75 L562.39,126.02 L565.74,126.29 L569.09,126.56 L572.45,126.83 L575.80,127.09 L579.15,127.36 L582.50,127.63 L585.86,127.90 L589.21,128.17 L592.56,128.43 L595.91,128.70 L599.27,128.97 L602.62,129.24 L605.97,129.51 L609.32,129.77 L612.68,130.04 L616.03,130.31 L619.38,130.58 L622.73,130.85 L626.09,131.11 L629.44,131.38 L632.79,131.65 L636.14,131.92 L639.50,132.19 L642.85,132.46 L646.20,132.72 L649.55,132.99 L652.91,133.26 L656.26,133.53 L659.61,133.80 L662.96,134.06 L666.32,134.33 L669.67,134.60" fill="none" stroke="#009E73" stroke-width="3.2" stroke-linejoin="round" stroke-dasharray="13.700 13.700"/>
<path d="M512.10,109.90 L515.45,109.91 L518.81,109.91 L522.16,109.90 L525.51,109.88 L528.86,109.86 L532.22,109.83 L535.57,109.79 L538.92,109.75 L542.27,109.70 L545.63,109.64 L548.98,109.57 L552.33,109.49 L555.68,109.41 L559.04,109.32 L562.39,109.22 L565.74,109.12 L569.09,109.01 L572.45,108.89 L575.80,108.76 L579.15,108.63 L582.50,108.49 L585.86,108.34 L589.21,108.18 L592.56,108.02 L595.91,107.85 L599.27,107.67 L602.62,107.48 L605.97,107.29 L609.32,107.09 L612.68,106.88 L616.03,106.66 L619.38,106.44 L622.73,106.21 L626.09,105.97 L629.44,105.73 L632.79,105.47 L636.14,105.21 L639.50,104.94 L642.85,104.67 L646.20,104.39 L649.55,104.10 L652.91,103.80 L656.26,103.49 L659.61,103.18 L662.96,102.86 L666.32,102.53 L669.67,102.20 L669.67,136.70 L666.32,136.35 L662.96,136.00 L659.61,135.66 L656.26,135.32 L652.91,134.99 L649.55,134.67 L646.20,134.35 L642.85,134.04 L639.50,133.73 L636.14,133.43 L632.79,133.14 L629.44,132.85 L626.09,132.57 L622.73,132.30 L619.38,132.03 L616.03,131.77 L612.68,131.51 L609.32,131.26 L605.97,131.02 L602.62,130.78 L599.27,130.55 L595.91,130.33 L592.56,130.11 L589.21,129.89 L585.86,129.69 L582.50,129.49 L579.15,129.29 L575.80,129.10 L572.45,128.92 L569.09,128.75 L565.74,128.58 L562.39,128.41 L559.04,128.26 L555.68,128.11 L552.33,127.96 L548.98,127.82 L545.63,127.69 L542.27,127.56 L538.92,127.44 L535.57,127.33 L532.22,127.22 L528.86,127.12 L525.51,127.02 L522.16,126.93 L518.81,126.85 L515.45,126.77 L512.10,126.70 Z" fill="#333333" fill-opacity="0.28"/>
<path d="M512.10,109.80 L515.45,110.06 L518.81,110.28 L522.16,110.46 L525.51,110.58 L528.86,110.64 L532.22,110.64 L535.57,110.61 L538.92,110.55 L542.27,110.48 L545.63,110.38 L548.98,110.27 L552.33,110.04 L555.68,109.68 L559.04,109.23 L562.39,108.70 L565.74,108.14 L569.09,107.58 L572.45,106.92 L575.80,106.16 L579.15,105.33 L582.50,104.44 L585.86,103.53 L589.21,102.64 L592.56,101.77 L595.91,100.88 L599.27,99.97 L602.62,99.04 L605.97,98.11 L609.32,97.17 L612.68,96.23 L616.03,95.31 L619.38,94.39 L622.73,93.50 L626.09,92.63 L629.44,91.77 L632.79,90.91 L636.14,90.07 L639.50,89.23 L642.85,88.39 L646.20,87.57 L649.55,86.75 L652.91,85.93 L656.26,85.13 L659.61,84.34 L662.96,83.55 L666.32,82.77 L669.67,82.00 L669.67,151.80 L666.32,151.39 L662.96,150.98 L659.61,150.55 L656.26,150.11 L652.91,149.67 L649.55,149.21 L646.20,148.75 L642.85,148.28 L639.50,147.80 L636.14,147.32 L632.79,146.82 L629.44,146.32 L626.09,145.82 L622.73,145.30 L619.38,144.76 L616.03,144.20 L612.68,143.62 L609.32,143.03 L605.97,142.44 L602.62,141.85 L599.27,141.27 L595.91,140.70 L592.56,140.16 L589.21,139.63 L585.86,139.06 L582.50,138.46 L579.15,137.89 L575.80,137.38 L572.45,136.98 L569.09,136.73 L565.74,136.61 L562.39,136.51 L559.04,136.43 L555.68,136.37 L552.33,136.32 L548.98,136.30 L545.63,136.35 L542.27,136.54 L538.92,136.85 L535.57,137.22 L532.22,137.61 L528.86,137.99 L525.51,138.41 L522.16,138.89 L518.81,139.42 L515.45,139.99 L512.10,140.60 Z" fill="#333333" fill-opacity="0.28"/>
<path d="M512.10,128.00 L515.45,128.48 L518.81,128.97 L522.16,129.47 L525.51,129.98 L528.86,130.51 L532.22,131.04 L535.57,131.59 L538.92,132.14 L542.27,132.71 L545.63,133.29 L548.98,133.89 L552.33,134.51 L555.68,135.13 L559.04,135.76 L562.39,136.39 L565.74,137.01 L569.09,137.65 L572.45,138.29 L575.80,138.93 L579.15,139.54 L582.50,140.11 L585.86,140.68 L589.21,141.24 L592.56,141.80 L595.91,142.35 L599.27,142.91 L602.62,143.45 L605.97,143.99 L609.32,144.53 L612.68,145.06 L616.03,145.59 L619.38,146.10 L622.73,146.62 L626.09,147.12 L629.44,147.62 L632.79,148.11 L636.14,148.59 L639.50,149.06 L642.85,149.53 L646.20,149.99 L649.55,150.43 L652.91,150.87 L656.26,151.30 L659.61,151.71 L662.96,152.12 L666.32,152.52 L669.67,152.90 L669.67,190.80 L666.32,189.41 L662.96,188.03 L659.61,186.68 L656.26,185.34 L652.91,184.03 L649.55,182.73 L646.20,181.44 L642.85,180.18 L639.50,178.93 L636.14,177.70 L632.79,176.49 L629.44,175.29 L626.09,174.11 L622.73,172.94 L619.38,171.79 L616.03,170.65 L612.68,169.53 L609.32,168.42 L605.97,167.33 L602.62,166.24 L599.27,165.18 L595.91,164.12 L592.56,163.08 L589.21,162.05 L585.86,161.03 L582.50,160.02 L579.15,159.02 L575.80,158.05 L572.45,157.13 L569.09,156.25 L565.74,155.39 L562.39,154.53 L559.04,153.65 L555.68,152.72 L552.33,151.76 L548.98,150.78 L545.63,149.78 L542.27,148.78 L538.92,147.79 L535.57,146.82 L532.22,145.89 L528.86,144.97 L525.51,144.07 L522.16,143.18 L518.81,142.31 L515.45,141.45 L512.10,140.60 Z" fill="#333333" fill-opacity="0.28"/>
<path d="M512.10,113.50 L515.45,113.46 L518.81,113.43 L522.16,113.40 L525.51,113.38 L528.86,113.36 L532.22,113.35 L535.57,113.35 L538.92,113.34 L542.27,113.35 L545.63,113.36 L548.98,113.37 L552.33,113.39 L555.68,113.42 L559.04,113.45 L562.39,113.48 L565.74,113.53 L569.09,113.57 L572.45,113.62 L575.80,113.68 L579.15,113.74 L582.50,113.81 L585.86,113.88 L589.21,113.96 L592.56,114.04 L595.91,114.13 L599.27,114.22 L602.62,114.32 L605.97,114.43 L609.32,114.54 L612.68,114.65 L616.03,114.77 L619.38,114.90 L622.73,115.03 L626.09,115.16 L629.44,115.30 L632.79,115.45 L636.14,115.60 L639.50,115.76 L642.85,115.92 L646.20,116.08 L649.55,116.26 L652.91,116.43 L656.26,116.62 L659.61,116.80 L662.96,117.00 L666.32,117.20 L669.67,117.40 L669.67,151.60 L666.32,151.14 L662.96,150.67 L659.61,150.20 L656.26,149.74 L652.91,149.26 L649.55,148.79 L646.20,148.32 L642.85,147.84 L639.50,147.37 L636.14,146.89 L632.79,146.41 L629.44,145.93 L626.09,145.44 L622.73,144.96 L619.38,144.47 L616.03,143.99 L612.68,143.50 L609.32,143.01 L605.97,142.52 L602.62,142.03 L599.27,141.53 L595.91,141.04 L592.56,140.55 L589.21,140.05 L585.86,139.55 L582.50,139.05 L579.15,138.55 L575.80,138.04 L572.45,137.53 L569.09,137.02 L565.74,136.51 L562.39,135.98 L559.04,135.42 L555.68,134.84 L552.33,134.27 L548.98,133.73 L545.63,133.23 L542.27,132.80 L538.92,132.44 L535.57,132.10 L532.22,131.78 L528.86,131.48 L525.51,131.20 L522.16,130.95 L518.81,130.73 L515.45,130.54 L512.10,130.40 Z" fill="#333333" fill-opacity="0.28"/>
<rect x="504.6" y="46.9" width="172.80" height="171.50" fill="none" stroke="#787878" stroke-width="1.3"/>
<line x1="501.00" x2="504.10" y1="210.75" y2="210.75" stroke="#3c3c3c" stroke-width="1.25"/>
<text x="497.90" y="214.26" font-size="10.1" fill="#4d4d4d" text-anchor="end">2.5</text>
<line x1="501.00" x2="504.10" y1="165.92" y2="165.92" stroke="#3c3c3c" stroke-width="1.25"/>
<text x="497.90" y="169.43" font-size="10.1" fill="#4d4d4d" text-anchor="end">2.7</text>
<line x1="501.00" x2="504.10" y1="121.09" y2="121.09" stroke="#3c3c3c" stroke-width="1.25"/>
<text x="497.90" y="124.60" font-size="10.1" fill="#4d4d4d" text-anchor="end">2.9</text>
<line x1="501.00" x2="504.10" y1="76.26" y2="76.26" stroke="#3c3c3c" stroke-width="1.25"/>
<text x="497.90" y="79.77" font-size="10.1" fill="#4d4d4d" text-anchor="end">3.1</text>
<line y1="218.90" y2="222.00" x1="512.10" x2="512.10" stroke="#3c3c3c" stroke-width="1.25"/>
<text x="512.10" y="231.80" font-size="10.1" fill="#4d4d4d" text-anchor="middle">0</text>
<line y1="218.90" y2="222.00" x1="534.61" x2="534.61" stroke="#3c3c3c" stroke-width="1.25"/>
<text x="534.61" y="231.80" font-size="10.1" fill="#4d4d4d" text-anchor="middle">1</text>
<line y1="218.90" y2="222.00" x1="557.12" x2="557.12" stroke="#3c3c3c" stroke-width="1.25"/>
<text x="557.12" y="231.80" font-size="10.1" fill="#4d4d4d" text-anchor="middle">2</text>
<line y1="218.90" y2="222.00" x1="579.63" x2="579.63" stroke="#3c3c3c" stroke-width="1.25"/>
<text x="579.63" y="231.80" font-size="10.1" fill="#4d4d4d" text-anchor="middle">3</text>
<line y1="218.90" y2="222.00" x1="602.14" x2="602.14" stroke="#3c3c3c" stroke-width="1.25"/>
<text x="602.14" y="231.80" font-size="10.1" fill="#4d4d4d" text-anchor="middle">4</text>
<line y1="218.90" y2="222.00" x1="624.65" x2="624.65" stroke="#3c3c3c" stroke-width="1.25"/>
<text x="624.65" y="231.80" font-size="10.1" fill="#4d4d4d" text-anchor="middle">5</text>
<line y1="218.90" y2="222.00" x1="647.16" x2="647.16" stroke="#3c3c3c" stroke-width="1.25"/>
<text x="647.16" y="231.80" font-size="10.1" fill="#4d4d4d" text-anchor="middle">6</text>
<line y1="218.90" y2="222.00" x1="669.67" x2="669.67" stroke="#3c3c3c" stroke-width="1.25"/>
<text x="669.67" y="231.80" font-size="10.1" fill="#4d4d4d" text-anchor="middle">7</text>
<text x="591.00" y="246.40" font-size="12.8" fill="#111" text-anchor="middle">Years</text>
<text transform="translate(479.30,132.65) rotate(-90)" font-size="12.8" fill="#111" text-anchor="middle">AD Meta-ROI</text>
<text x="469.60" y="56.30" font-size="14.3" font-weight="bold" fill="#000">C</text>
</g>
<g>
<rect x="69.5" y="262.9" width="166.95" height="179.70" fill="#ffffff"/>
<line x1="69.5" x2="236.45" y1="421.21" y2="421.21" stroke="#efefef" stroke-width="0.55"/>
<line x1="69.5" x2="236.45" y1="393.82" y2="393.82" stroke="#efefef" stroke-width="0.55"/>
<line x1="69.5" x2="236.45" y1="366.44" y2="366.44" stroke="#efefef" stroke-width="0.55"/>
<line x1="69.5" x2="236.45" y1="339.05" y2="339.05" stroke="#efefef" stroke-width="0.55"/>
<line x1="69.5" x2="236.45" y1="311.67" y2="311.67" stroke="#efefef" stroke-width="0.55"/>
<line x1="69.5" x2="236.45" y1="284.28" y2="284.28" stroke="#efefef" stroke-width="0.55"/>
<line y1="262.9" y2="442.6" x1="98.78" x2="98.78" stroke="#efefef" stroke-width="0.55"/>
<line y1="262.9" y2="442.6" x1="142.15" x2="142.15" stroke="#efefef" stroke-width="0.55"/>
<line y1="262.9" y2="442.6" x1="185.52" x2="185.52" stroke="#efefef" stroke-width="0.55"/>
<line y1="262.9" y2="442.6" x1="228.89" x2="228.89" stroke="#efefef" stroke-width="0.55"/>
<line x1="69.5" x2="236.45" y1="434.90" y2="434.90" stroke="#e9e9e9" stroke-width="0.8"/>
<line x1="69.5" x2="236.45" y1="407.51" y2="407.51" stroke="#e9e9e9" stroke-width="0.8"/>
<line x1="69.5" x2="236.45" y1="380.13" y2="380.13" stroke="#e9e9e9" stroke-width="0.8"/>
<line x1="69.5" x2="236.45" y1="352.75" y2="352.75" stroke="#e9e9e9" stroke-width="0.8"/>
<line x1="69.5" x2="236.45" y1="325.36" y2="325.36" stroke="#e9e9e9" stroke-width="0.8"/>
<line x1="69.5" x2="236.45" y1="297.97" y2="297.97" stroke="#e9e9e9" stroke-width="0.8"/>
<line x1="69.5" x2="236.45" y1="270.59" y2="270.59" stroke="#e9e9e9" stroke-width="0.8"/>
<line y1="262.9" y2="442.6" x1="77.10" x2="77.10" stroke="#e9e9e9" stroke-width="0.8"/>
<line y1="262.9" y2="442.6" x1="120.47" x2="120.47" stroke="#e9e9e9" stroke-width="0.8"/>
<line y1="262.9" y2="442.6" x1="163.84" x2="163.84" stroke="#e9e9e9" stroke-width="0.8"/>
<line y1="262.9" y2="442.6" x1="207.21" x2="207.21" stroke="#e9e9e9" stroke-width="0.8"/>
<path d="M77.10,412.80 L80.33,412.38 L83.56,411.95 L86.79,411.52 L90.02,411.08 L93.25,410.64 L96.48,410.20 L99.71,409.76 L102.94,409.31 L106.17,408.86 L109.40,408.41 L112.63,407.96 L115.86,407.50 L119.09,407.04 L122.32,406.57 L125.55,406.10 L128.77,405.63 L132.00,405.16 L135.23,404.68 L138.46,404.20 L141.69,403.72 L144.92,403.23 L148.15,402.74 L151.38,402.25 L154.61,401.75 L157.84,401.25 L161.07,400.75 L164.30,400.25 L167.53,399.74 L170.76,399.23 L173.99,398.71 L177.22,398.20 L180.45,397.67 L183.68,397.15 L186.91,396.62 L190.14,396.10 L193.37,395.56 L196.60,395.03 L199.83,394.49 L203.06,393.95 L206.29,393.40 L209.52,392.85 L212.75,392.30 L215.98,391.75 L219.21,391.19 L222.44,390.63 L225.67,390.07 L228.89,389.50" fill="none" stroke="#999999" stroke-width="3.2" stroke-linejoin="round"/>
<path d="M77.10,405.00 L80.33,403.90 L83.56,402.77 L86.79,401.63 L90.02,400.47 L93.25,399.29 L96.48,398.09 L99.71,396.87 L102.94,395.64 L106.17,394.38 L109.40,393.10 L112.63,391.81 L115.86,390.49 L119.09,389.16 L122.32,387.81 L125.55,386.44 L128.77,385.05 L132.00,383.63 L135.23,382.21 L138.46,380.76 L141.69,379.29 L144.92,377.80 L148.15,376.30 L151.38,374.77 L154.61,373.23 L157.84,371.66 L161.07,370.08 L164.30,368.48 L167.53,366.85 L170.76,365.21 L173.99,363.55 L177.22,361.88 L180.45,360.18 L183.68,358.46 L186.91,356.72 L190.14,354.97 L193.37,353.19 L196.60,351.40 L199.83,349.58 L203.06,347.75 L206.29,345.90 L209.52,344.03 L212.75,342.14 L215.98,340.23 L219.21,338.30 L222.44,336.35 L225.67,334.39 L228.89,332.40" fill="none" stroke="#56B4E9" stroke-width="3.2" stroke-linejoin="round" stroke-dasharray="6.918 6.918"/>
<path d="M77.10,378.60 L80.33,377.30 L83.56,375.99 L86.79,374.67 L90.02,373.34 L93.25,371.99 L96.48,370.63 L99.71,369.26 L102.94,367.88 L106.17,366.49 L109.40,365.08 L112.63,363.66 L115.86,362.23 L119.09,360.79 L122.32,359.33 L125.55,357.86 L128.77,356.38 L132.00,354.89 L135.23,353.39 L138.46,351.87 L141.69,350.34 L144.92,348.80 L148.15,347.25 L151.38,345.69 L154.61,344.11 L157.84,342.52 L161.07,340.92 L164.30,339.31 L167.53,337.68 L170.76,336.05 L173.99,334.40 L177.22,332.73 L180.45,331.06 L183.68,329.37 L186.91,327.68 L190.14,325.97 L193.37,324.24 L196.60,322.51 L199.83,320.76 L203.06,319.01 L206.29,317.23 L209.52,315.45 L212.75,313.66 L215.98,311.85 L219.21,310.03 L222.44,308.20 L225.67,306.36 L228.89,304.50" fill="none" stroke="#E69F00" stroke-width="3.2" stroke-linejoin="round" stroke-dasharray="13.837 6.918"/>
<path d="M77.10,393.40 L80.33,392.49 L83.56,391.57 L86.79,390.65 L90.02,389.73 L93.25,388.80 L96.48,387.87 L99.71,386.94 L102.94,386.00 L106.17,385.06 L109.40,384.11 L112.63,383.16 L115.86,382.21 L119.09,381.26 L122.32,380.30 L125.55,379.33 L128.77,378.37 L132.00,377.40 L135.23,376.42 L138.46,375.44 L141.69,374.46 L144.92,373.48 L148.15,372.49 L151.38,371.50 L154.61,370.50 L157.84,369.50 L161.07,368.50 L164.30,367.49 L167.53,366.48 L170.76,365.47 L173.99,364.45 L177.22,363.43 L180.45,362.41 L183.68,361.38 L186.91,360.35 L190.14,359.31 L193.37,358.27 L196.60,357.23 L199.83,356.18 L203.06,355.13 L206.29,354.08 L209.52,353.02 L212.75,351.96 L215.98,350.89 L219.21,349.83 L222.44,348.75 L225.67,347.68 L228.89,346.60" fill="none" stroke="#009E73" stroke-width="3.2" stroke-linejoin="round" stroke-dasharray="13.837 13.837"/>
<path d="M77.10,396.00 L80.33,395.98 L83.56,395.91 L86.79,395.79 L90.02,395.64 L93.25,395.46 L96.48,395.24 L99.71,394.99 L102.94,394.72 L106.17,394.43 L109.40,394.13 L112.63,393.81 L115.86,393.48 L119.09,393.14 L122.32,392.79 L125.55,392.37 L128.77,391.87 L132.00,391.30 L135.23,390.67 L138.46,389.99 L141.69,389.26 L144.92,388.49 L148.15,387.69 L151.38,386.86 L154.61,386.02 L157.84,385.16 L161.07,384.31 L164.30,383.45 L167.53,382.61 L170.76,381.78 L173.99,380.96 L177.22,380.12 L180.45,379.28 L183.68,378.42 L186.91,377.55 L190.14,376.66 L193.37,375.76 L196.60,374.83 L199.83,373.89 L203.06,372.92 L206.29,371.93 L209.52,370.91 L212.75,369.87 L215.98,368.80 L219.21,367.70 L222.44,366.56 L225.67,365.37 L228.89,364.00 L228.89,408.40 L225.67,408.58 L222.44,408.76 L219.21,408.95 L215.98,409.14 L212.75,409.34 L209.52,409.54 L206.29,409.75 L203.06,409.97 L199.83,410.19 L196.60,410.42 L193.37,410.65 L190.14,410.88 L186.91,411.13 L183.68,411.37 L180.45,411.63 L177.22,411.89 L173.99,412.15 L170.76,412.42 L167.53,412.70 L164.30,412.98 L161.07,413.26 L157.84,413.55 L154.61,413.85 L151.38,414.15 L148.15,414.46 L144.92,414.77 L141.69,415.09 L138.46,415.41 L135.23,415.74 L132.00,416.08 L128.77,416.42 L125.55,416.76 L122.32,417.12 L119.09,417.47 L115.86,417.83 L112.63,418.20 L109.40,418.57 L106.17,418.95 L102.94,419.34 L99.71,419.72 L96.48,420.12 L93.25,420.52 L90.02,420.92 L86.79,421.34 L83.56,421.75 L80.33,422.17 L77.10,422.60 Z" fill="#333333" fill-opacity="0.28"/>
<path d="M77.10,384.30 L80.33,383.65 L83.56,382.90 L86.79,382.05 L90.02,381.12 L93.25,380.10 L96.48,379.01 L99.71,377.85 L102.94,376.61 L106.17,375.32 L109.40,373.96 L112.63,372.56 L115.86,371.10 L119.09,369.61 L122.32,368.08 L125.55,366.51 L128.77,364.92 L132.00,363.26 L135.23,361.38 L138.46,359.31 L141.69,357.09 L144.92,354.76 L148.15,352.35 L151.38,349.91 L154.61,347.47 L157.84,345.08 L161.07,342.78 L164.30,340.60 L167.53,338.52 L170.76,336.49 L173.99,334.48 L177.22,332.49 L180.45,330.47 L183.68,328.41 L186.91,326.28 L190.14,324.05 L193.37,321.76 L196.60,319.44 L199.83,317.15 L203.06,314.91 L206.29,312.78 L209.52,310.77 L212.75,308.80 L215.98,306.89 L219.21,305.03 L222.44,303.23 L225.67,301.48 L228.89,299.80 L228.89,364.20 L225.67,365.39 L222.44,366.58 L219.21,367.78 L215.98,368.98 L212.75,370.18 L209.52,371.38 L206.29,372.58 L203.06,373.79 L199.83,374.99 L196.60,376.19 L193.37,377.39 L190.14,378.59 L186.91,379.78 L183.68,380.97 L180.45,382.16 L177.22,383.34 L173.99,384.52 L170.76,385.69 L167.53,386.86 L164.30,388.04 L161.07,389.22 L157.84,390.40 L154.61,391.58 L151.38,392.76 L148.15,393.94 L144.92,395.10 L141.69,396.26 L138.46,397.41 L135.23,398.55 L132.00,399.66 L128.77,400.77 L125.55,401.85 L122.32,402.91 L119.09,403.94 L115.86,404.96 L112.63,405.97 L109.40,406.97 L106.17,407.95 L102.94,408.92 L99.71,409.88 L96.48,410.82 L93.25,411.75 L90.02,412.67 L86.79,413.58 L83.56,414.46 L80.33,415.34 L77.10,416.20 Z" fill="#333333" fill-opacity="0.28"/>
<path d="M77.10,363.90 L80.33,362.42 L83.56,360.96 L86.79,359.50 L90.02,358.05 L93.25,356.61 L96.48,355.18 L99.71,353.77 L102.94,352.37 L106.17,351.03 L109.40,349.70 L112.63,348.39 L115.86,347.07 L119.09,345.74 L122.32,344.38 L125.55,342.96 L128.77,341.48 L132.00,339.94 L135.23,338.34 L138.46,336.69 L141.69,334.99 L144.92,333.25 L148.15,331.47 L151.38,329.65 L154.61,327.79 L157.84,325.90 L161.07,323.97 L164.30,322.02 L167.53,320.00 L170.76,317.92 L173.99,315.78 L177.22,313.58 L180.45,311.35 L183.68,309.10 L186.91,306.82 L190.14,304.46 L193.37,302.05 L196.60,299.60 L199.83,297.15 L203.06,294.73 L206.29,292.36 L209.52,290.06 L212.75,287.78 L215.98,285.54 L219.21,283.31 L222.44,281.11 L225.67,278.94 L228.89,276.80 L228.89,327.90 L225.67,329.30 L222.44,330.72 L219.21,332.15 L215.98,333.60 L212.75,335.06 L209.52,336.54 L206.29,338.03 L203.06,339.56 L199.83,341.11 L196.60,342.68 L193.37,344.25 L190.14,345.82 L186.91,347.35 L183.68,348.86 L180.45,350.38 L177.22,351.92 L173.99,353.47 L170.76,355.02 L167.53,356.57 L164.30,358.12 L161.07,359.65 L157.84,361.17 L154.61,362.67 L151.38,364.13 L148.15,365.57 L144.92,366.97 L141.69,368.33 L138.46,369.64 L135.23,370.89 L132.00,372.09 L128.77,373.22 L125.55,374.28 L122.32,375.26 L119.09,376.19 L115.86,377.10 L112.63,378.00 L109.40,378.91 L106.17,379.86 L102.94,380.86 L99.71,381.90 L96.48,382.96 L93.25,384.04 L90.02,385.13 L86.79,386.25 L83.56,387.38 L80.33,388.53 L77.10,389.70 Z" fill="#333333" fill-opacity="0.28"/>
<path d="M77.10,368.80 L80.33,368.18 L83.56,367.54 L86.79,366.87 L90.02,366.18 L93.25,365.47 L96.48,364.74 L99.71,364.00 L102.94,363.23 L106.17,362.45 L109.40,361.66 L112.63,360.86 L115.86,360.04 L119.09,359.19 L122.32,358.29 L125.55,357.33 L128.77,356.31 L132.00,355.20 L135.23,353.98 L138.46,352.64 L141.69,351.19 L144.92,349.63 L148.15,347.87 L151.38,345.89 L154.61,343.77 L157.84,341.58 L161.07,339.40 L164.30,337.31 L167.53,335.30 L170.76,333.31 L173.99,331.33 L177.22,329.34 L180.45,327.31 L183.68,325.23 L186.91,323.06 L190.14,320.81 L193.37,318.49 L196.60,316.13 L199.83,313.74 L203.06,311.35 L206.29,308.97 L209.52,306.62 L212.75,304.28 L215.98,301.92 L219.21,299.57 L222.44,297.22 L225.67,294.86 L228.89,292.50 L228.89,381.60 L225.67,382.05 L222.44,382.50 L219.21,382.96 L215.98,383.42 L212.75,383.90 L209.52,384.37 L206.29,384.85 L203.06,385.34 L199.83,385.83 L196.60,386.33 L193.37,386.83 L190.14,387.33 L186.91,387.84 L183.68,388.36 L180.45,388.88 L177.22,389.40 L173.99,389.93 L170.76,390.46 L167.53,391.00 L164.30,391.54 L161.07,392.10 L157.84,392.67 L154.61,393.24 L151.38,393.82 L148.15,394.40 L144.92,394.99 L141.69,395.58 L138.46,396.18 L135.23,396.77 L132.00,397.37 L128.77,397.97 L125.55,398.57 L122.32,399.16 L119.09,399.75 L115.86,400.35 L112.63,400.94 L109.40,401.54 L106.17,402.14 L102.94,402.74 L99.71,403.34 L96.48,403.95 L93.25,404.55 L90.02,405.16 L86.79,405.77 L83.56,406.38 L80.33,406.99 L77.10,407.60 Z" fill="#333333" fill-opacity="0.28"/>
<rect x="69.5" y="262.9" width="166.95" height="179.70" fill="none" stroke="#787878" stroke-width="1.3"/>
<line x1="65.40" x2="69.00" y1="434.90" y2="434.90" stroke="#3c3c3c" stroke-width="1.3"/>
<text x="62.70" y="439.08" font-size="12.0" fill="#4d4d4d" text-anchor="end">0.0</text>
<line x1="65.40" x2="69.00" y1="407.51" y2="407.51" stroke="#3c3c3c" stroke-width="1.3"/>
<text x="62.70" y="411.69" font-size="12.0" fill="#4d4d4d" text-anchor="end">0.5</text>
<line x1="65.40" x2="69.00" y1="380.13" y2="380.13" stroke="#3c3c3c" stroke-width="1.3"/>
<text x="62.70" y="384.31" font-size="12.0" fill="#4d4d4d" text-anchor="end">1.0</text>
<line x1="65.40" x2="69.00" y1="352.75" y2="352.75" stroke="#3c3c3c" stroke-width="1.3"/>
<text x="62.70" y="356.92" font-size="12.0" fill="#4d4d4d" text-anchor="end">1.5</text>
<line x1="65.40" x2="69.00" y1="325.36" y2="325.36" stroke="#3c3c3c" stroke-width="1.3"/>
<text x="62.70" y="329.54" font-size="12.0" fill="#4d4d4d" text-anchor="end">2.0</text>
<line x1="65.40" x2="69.00" y1="297.97" y2="297.97" stroke="#3c3c3c" stroke-width="1.3"/>
<text x="62.70" y="302.15" font-size="12.0" fill="#4d4d4d" text-anchor="end">2.5</text>
<line x1="65.40" x2="69.00" y1="270.59" y2="270.59" stroke="#3c3c3c" stroke-width="1.3"/>
<text x="62.70" y="274.77" font-size="12.0" fill="#4d4d4d" text-anchor="end">3.0</text>
<line y1="443.10" y2="446.70" x1="77.10" x2="77.10" stroke="#3c3c3c" stroke-width="1.3"/>
<text x="77.10" y="458.30" font-size="12.0" fill="#4d4d4d" text-anchor="middle">0</text>
<line y1="443.10" y2="446.70" x1="120.47" x2="120.47" stroke="#3c3c3c" stroke-width="1.3"/>
<text x="120.47" y="458.30" font-size="12.0" fill="#4d4d4d" text-anchor="middle">1</text>
<line y1="443.10" y2="446.70" x1="163.84" x2="163.84" stroke="#3c3c3c" stroke-width="1.3"/>
<text x="163.84" y="458.30" font-size="12.0" fill="#4d4d4d" text-anchor="middle">2</text>
<line y1="443.10" y2="446.70" x1="207.21" x2="207.21" stroke="#3c3c3c" stroke-width="1.3"/>
<text x="207.21" y="458.30" font-size="12.0" fill="#4d4d4d" text-anchor="middle">3</text>
<text x="152.97" y="475.20" font-size="15.0" fill="#111" text-anchor="middle">Years</text>
<text transform="translate(37.90,352.75) rotate(-90)" font-size="15.0" fill="#111" text-anchor="middle">CDR score</text>
<text x="26.00" y="271.40" font-size="14.3" font-weight="bold" fill="#000">D</text>
</g>
<g>
<rect x="290.7" y="262.9" width="170.40" height="179.70" fill="#ffffff"/>
<line x1="290.7" x2="461.1" y1="421.67" y2="421.67" stroke="#efefef" stroke-width="0.55"/>
<line x1="290.7" x2="461.1" y1="395.22" y2="395.22" stroke="#efefef" stroke-width="0.55"/>
<line x1="290.7" x2="461.1" y1="368.77" y2="368.77" stroke="#efefef" stroke-width="0.55"/>
<line x1="290.7" x2="461.1" y1="342.32" y2="342.32" stroke="#efefef" stroke-width="0.55"/>
<line x1="290.7" x2="461.1" y1="315.88" y2="315.88" stroke="#efefef" stroke-width="0.55"/>
<line x1="290.7" x2="461.1" y1="289.42" y2="289.42" stroke="#efefef" stroke-width="0.55"/>
<line x1="290.7" x2="461.1" y1="262.97" y2="262.97" stroke="#efefef" stroke-width="0.55"/>
<line y1="262.9" y2="442.6" x1="323.92" x2="323.92" stroke="#efefef" stroke-width="0.55"/>
<line y1="262.9" y2="442.6" x1="375.75" x2="375.75" stroke="#efefef" stroke-width="0.55"/>
<line y1="262.9" y2="442.6" x1="427.57" x2="427.57" stroke="#efefef" stroke-width="0.55"/>
<line x1="290.7" x2="461.1" y1="434.90" y2="434.90" stroke="#e9e9e9" stroke-width="0.8"/>
<line x1="290.7" x2="461.1" y1="408.45" y2="408.45" stroke="#e9e9e9" stroke-width="0.8"/>
<line x1="290.7" x2="461.1" y1="382.00" y2="382.00" stroke="#e9e9e9" stroke-width="0.8"/>
<line x1="290.7" x2="461.1" y1="355.55" y2="355.55" stroke="#e9e9e9" stroke-width="0.8"/>
<line x1="290.7" x2="461.1" y1="329.10" y2="329.10" stroke="#e9e9e9" stroke-width="0.8"/>
<line x1="290.7" x2="461.1" y1="302.65" y2="302.65" stroke="#e9e9e9" stroke-width="0.8"/>
<line x1="290.7" x2="461.1" y1="276.20" y2="276.20" stroke="#e9e9e9" stroke-width="0.8"/>
<line y1="262.9" y2="442.6" x1="298.00" x2="298.00" stroke="#e9e9e9" stroke-width="0.8"/>
<line y1="262.9" y2="442.6" x1="349.83" x2="349.83" stroke="#e9e9e9" stroke-width="0.8"/>
<line y1="262.9" y2="442.6" x1="401.66" x2="401.66" stroke="#e9e9e9" stroke-width="0.8"/>
<line y1="262.9" y2="442.6" x1="453.49" x2="453.49" stroke="#e9e9e9" stroke-width="0.8"/>
<path d="M298.00,294.80 L301.31,295.34 L304.62,295.87 L307.92,296.41 L311.23,296.94 L314.54,297.47 L317.85,298.00 L321.16,298.53 L324.47,299.05 L327.77,299.58 L331.08,300.10 L334.39,300.62 L337.70,301.14 L341.01,301.66 L344.32,302.18 L347.62,302.69 L350.93,303.20 L354.24,303.72 L357.55,304.23 L360.86,304.73 L364.17,305.24 L367.47,305.74 L370.78,306.25 L374.09,306.75 L377.40,307.25 L380.71,307.75 L384.02,308.24 L387.32,308.74 L390.63,309.23 L393.94,309.73 L397.25,310.22 L400.56,310.70 L403.87,311.19 L407.17,311.68 L410.48,312.16 L413.79,312.64 L417.10,313.12 L420.41,313.60 L423.72,314.08 L427.02,314.55 L430.33,315.03 L433.64,315.50 L436.95,315.97 L440.26,316.44 L443.57,316.91 L446.87,317.37 L450.18,317.84 L453.49,318.30" fill="none" stroke="#999999" stroke-width="3.2" stroke-linejoin="round"/>
<path d="M298.00,297.90 L301.31,298.49 L304.62,299.08 L307.92,299.67 L311.23,300.26 L314.54,300.85 L317.85,301.44 L321.16,302.02 L324.47,302.61 L327.77,303.19 L331.08,303.78 L334.39,304.36 L337.70,304.95 L341.01,305.53 L344.32,306.11 L347.62,306.69 L350.93,307.27 L354.24,307.85 L357.55,308.43 L360.86,309.01 L364.17,309.58 L367.47,310.16 L370.78,310.74 L374.09,311.31 L377.40,311.89 L380.71,312.46 L384.02,313.03 L387.32,313.61 L390.63,314.18 L393.94,314.75 L397.25,315.32 L400.56,315.89 L403.87,316.46 L407.17,317.02 L410.48,317.59 L413.79,318.16 L417.10,318.72 L420.41,319.29 L423.72,319.85 L427.02,320.42 L430.33,320.98 L433.64,321.54 L436.95,322.10 L440.26,322.66 L443.57,323.22 L446.87,323.78 L450.18,324.34 L453.49,324.90" fill="none" stroke="#56B4E9" stroke-width="3.2" stroke-linejoin="round" stroke-dasharray="6.918 6.918"/>
<path d="M298.00,324.20 L301.31,324.83 L304.62,325.46 L307.92,326.09 L311.23,326.73 L314.54,327.36 L317.85,327.99 L321.16,328.62 L324.47,329.25 L327.77,329.88 L331.08,330.51 L334.39,331.14 L337.70,331.77 L341.01,332.40 L344.32,333.03 L347.62,333.66 L350.93,334.29 L354.24,334.92 L357.55,335.55 L360.86,336.17 L364.17,336.80 L367.47,337.43 L370.78,338.06 L374.09,338.69 L377.40,339.31 L380.71,339.94 L384.02,340.57 L387.32,341.20 L390.63,341.82 L393.94,342.45 L397.25,343.08 L400.56,343.70 L403.87,344.33 L407.17,344.95 L410.48,345.58 L413.79,346.21 L417.10,346.83 L420.41,347.46 L423.72,348.08 L427.02,348.71 L430.33,349.33 L433.64,349.96 L436.95,350.58 L440.26,351.20 L443.57,351.83 L446.87,352.45 L450.18,353.08 L453.49,353.70" fill="none" stroke="#E69F00" stroke-width="3.2" stroke-linejoin="round" stroke-dasharray="13.837 6.918"/>
<path d="M298.00,304.70 L301.31,305.39 L304.62,306.08 L307.92,306.77 L311.23,307.46 L314.54,308.16 L317.85,308.85 L321.16,309.54 L324.47,310.23 L327.77,310.92 L331.08,311.61 L334.39,312.30 L337.70,312.98 L341.01,313.67 L344.32,314.36 L347.62,315.05 L350.93,315.74 L354.24,316.43 L357.55,317.12 L360.86,317.81 L364.17,318.49 L367.47,319.18 L370.78,319.87 L374.09,320.56 L377.40,321.24 L380.71,321.93 L384.02,322.62 L387.32,323.30 L390.63,323.99 L393.94,324.68 L397.25,325.36 L400.56,326.05 L403.87,326.73 L407.17,327.42 L410.48,328.11 L413.79,328.79 L417.10,329.48 L420.41,330.16 L423.72,330.85 L427.02,331.53 L430.33,332.21 L433.64,332.90 L436.95,333.58 L440.26,334.27 L443.57,334.95 L446.87,335.63 L450.18,336.32 L453.49,337.00" fill="none" stroke="#009E73" stroke-width="3.2" stroke-linejoin="round" stroke-dasharray="13.837 13.837"/>
<path d="M298.00,275.70 L301.31,276.62 L304.62,277.52 L307.92,278.39 L311.23,279.22 L314.54,280.02 L317.85,280.79 L321.16,281.51 L324.47,282.19 L327.77,282.85 L331.08,283.49 L334.39,284.10 L337.70,284.69 L341.01,285.24 L344.32,285.76 L347.62,286.25 L350.93,286.69 L354.24,287.12 L357.55,287.52 L360.86,287.90 L364.17,288.27 L367.47,288.62 L370.78,288.95 L374.09,289.27 L377.40,289.57 L380.71,289.86 L384.02,290.15 L387.32,290.43 L390.63,290.71 L393.94,290.99 L397.25,291.26 L400.56,291.53 L403.87,291.79 L407.17,292.05 L410.48,292.30 L413.79,292.55 L417.10,292.79 L420.41,293.02 L423.72,293.25 L427.02,293.47 L430.33,293.68 L433.64,293.88 L436.95,294.07 L440.26,294.26 L443.57,294.43 L446.87,294.60 L450.18,294.76 L453.49,294.90 L453.49,338.50 L450.18,337.95 L446.87,337.40 L443.57,336.84 L440.26,336.29 L436.95,335.73 L433.64,335.18 L430.33,334.62 L427.02,334.07 L423.72,333.51 L420.41,332.95 L417.10,332.40 L413.79,331.84 L410.48,331.28 L407.17,330.72 L403.87,330.16 L400.56,329.60 L397.25,329.04 L393.94,328.48 L390.63,327.92 L387.32,327.36 L384.02,326.80 L380.71,326.24 L377.40,325.68 L374.09,325.11 L370.78,324.54 L367.47,323.98 L364.17,323.41 L360.86,322.84 L357.55,322.28 L354.24,321.71 L350.93,321.15 L347.62,320.59 L344.32,320.03 L341.01,319.47 L337.70,318.91 L334.39,318.36 L331.08,317.80 L327.77,317.25 L324.47,316.69 L321.16,316.14 L317.85,315.59 L314.54,315.04 L311.23,314.49 L307.92,313.94 L304.62,313.39 L301.31,312.85 L298.00,312.30 Z" fill="#333333" fill-opacity="0.28"/>
<path d="M298.00,278.60 L301.31,279.40 L304.62,280.19 L307.92,280.96 L311.23,281.72 L314.54,282.47 L317.85,283.19 L321.16,283.90 L324.47,284.60 L327.77,285.27 L331.08,285.93 L334.39,286.56 L337.70,287.18 L341.01,287.78 L344.32,288.38 L347.62,288.99 L350.93,289.59 L354.24,290.19 L357.55,290.77 L360.86,291.32 L364.17,291.85 L367.47,292.34 L370.78,292.80 L374.09,293.21 L377.40,293.56 L380.71,293.86 L384.02,294.14 L387.32,294.41 L390.63,294.68 L393.94,294.95 L397.25,295.21 L400.56,295.47 L403.87,295.71 L407.17,295.95 L410.48,296.18 L413.79,296.39 L417.10,296.60 L420.41,296.79 L423.72,296.97 L427.02,297.13 L430.33,297.28 L433.64,297.41 L436.95,297.53 L440.26,297.62 L443.57,297.70 L446.87,297.75 L450.18,297.79 L453.49,297.80 L453.49,345.80 L450.18,345.19 L446.87,344.58 L443.57,343.97 L440.26,343.37 L436.95,342.76 L433.64,342.15 L430.33,341.54 L427.02,340.93 L423.72,340.32 L420.41,339.71 L417.10,339.11 L413.79,338.50 L410.48,337.89 L407.17,337.28 L403.87,336.67 L400.56,336.06 L397.25,335.46 L393.94,334.85 L390.63,334.24 L387.32,333.63 L384.02,333.02 L380.71,332.41 L377.40,331.80 L374.09,331.20 L370.78,330.59 L367.47,329.98 L364.17,329.37 L360.86,328.76 L357.55,328.15 L354.24,327.54 L350.93,326.94 L347.62,326.33 L344.32,325.72 L341.01,325.11 L337.70,324.50 L334.39,323.89 L331.08,323.29 L327.77,322.68 L324.47,322.07 L321.16,321.46 L317.85,320.85 L314.54,320.24 L311.23,319.63 L307.92,319.03 L304.62,318.42 L301.31,317.81 L298.00,317.20 Z" fill="#333333" fill-opacity="0.28"/>
<path d="M298.00,314.30 L301.31,314.98 L304.62,315.65 L307.92,316.32 L311.23,316.97 L314.54,317.63 L317.85,318.28 L321.16,318.92 L324.47,319.56 L327.77,320.19 L331.08,320.81 L334.39,321.43 L337.70,322.05 L341.01,322.66 L344.32,323.27 L347.62,323.87 L350.93,324.46 L354.24,325.05 L357.55,325.62 L360.86,326.19 L364.17,326.75 L367.47,327.31 L370.78,327.87 L374.09,328.42 L377.40,328.98 L380.71,329.54 L384.02,330.10 L387.32,330.66 L390.63,331.22 L393.94,331.78 L397.25,332.34 L400.56,332.90 L403.87,333.46 L407.17,334.02 L410.48,334.58 L413.79,335.14 L417.10,335.70 L420.41,336.25 L423.72,336.81 L427.02,337.37 L430.33,337.92 L433.64,338.48 L436.95,339.03 L440.26,339.59 L443.57,340.14 L446.87,340.70 L450.18,341.25 L453.49,341.80 L453.49,363.00 L450.18,362.46 L446.87,361.91 L443.57,361.37 L440.26,360.82 L436.95,360.26 L433.64,359.71 L430.33,359.15 L427.02,358.58 L423.72,358.02 L420.41,357.45 L417.10,356.88 L413.79,356.31 L410.48,355.73 L407.17,355.15 L403.87,354.57 L400.56,353.98 L397.25,353.39 L393.94,352.80 L390.63,352.21 L387.32,351.61 L384.02,351.01 L380.71,350.41 L377.40,349.80 L374.09,349.20 L370.78,348.58 L367.47,347.97 L364.17,347.35 L360.86,346.73 L357.55,346.11 L354.24,345.48 L350.93,344.85 L347.62,344.22 L344.32,343.59 L341.01,342.95 L337.70,342.31 L334.39,341.67 L331.08,341.02 L327.77,340.37 L324.47,339.72 L321.16,339.07 L317.85,338.41 L314.54,337.75 L311.23,337.08 L307.92,336.42 L304.62,335.75 L301.31,335.08 L298.00,334.40 Z" fill="#333333" fill-opacity="0.28"/>
<path d="M298.00,280.70 L301.31,281.68 L304.62,282.65 L307.92,283.60 L311.23,284.54 L314.54,285.47 L317.85,286.39 L321.16,287.29 L324.47,288.17 L327.77,289.04 L331.08,289.90 L334.39,290.74 L337.70,291.57 L341.01,292.38 L344.32,293.20 L347.62,294.02 L350.93,294.83 L354.24,295.64 L357.55,296.44 L360.86,297.21 L364.17,297.96 L367.47,298.68 L370.78,299.36 L374.09,299.99 L377.40,300.58 L380.71,301.11 L384.02,301.62 L387.32,302.13 L390.63,302.63 L393.94,303.12 L397.25,303.61 L400.56,304.08 L403.87,304.54 L407.17,304.99 L410.48,305.43 L413.79,305.85 L417.10,306.26 L420.41,306.65 L423.72,307.03 L427.02,307.38 L430.33,307.71 L433.64,308.03 L436.95,308.32 L440.26,308.59 L443.57,308.83 L446.87,309.05 L450.18,309.24 L453.49,309.40 L453.49,357.00 L450.18,356.45 L446.87,355.90 L443.57,355.35 L440.26,354.79 L436.95,354.24 L433.64,353.68 L430.33,353.11 L427.02,352.55 L423.72,351.98 L420.41,351.41 L417.10,350.84 L413.79,350.27 L410.48,349.69 L407.17,349.11 L403.87,348.53 L400.56,347.95 L397.25,347.36 L393.94,346.78 L390.63,346.19 L387.32,345.59 L384.02,345.00 L380.71,344.40 L377.40,343.80 L374.09,343.20 L370.78,342.59 L367.47,341.99 L364.17,341.38 L360.86,340.77 L357.55,340.15 L354.24,339.54 L350.93,338.92 L347.62,338.30 L344.32,337.67 L341.01,337.05 L337.70,336.42 L334.39,335.79 L331.08,335.16 L327.77,334.52 L324.47,333.88 L321.16,333.24 L317.85,332.60 L314.54,331.96 L311.23,331.31 L307.92,330.66 L304.62,330.01 L301.31,329.36 L298.00,328.70 Z" fill="#333333" fill-opacity="0.28"/>
<rect x="290.7" y="262.9" width="170.40" height="179.70" fill="none" stroke="#787878" stroke-width="1.3"/>
<line x1="286.60" x2="290.20" y1="434.90" y2="434.90" stroke="#3c3c3c" stroke-width="1.3"/>
<text x="283.90" y="439.08" font-size="12.0" fill="#4d4d4d" text-anchor="end">0</text>
<line x1="286.60" x2="290.20" y1="408.45" y2="408.45" stroke="#3c3c3c" stroke-width="1.3"/>
<text x="283.90" y="412.63" font-size="12.0" fill="#4d4d4d" text-anchor="end">5</text>
<line x1="286.60" x2="290.20" y1="382.00" y2="382.00" stroke="#3c3c3c" stroke-width="1.3"/>
<text x="283.90" y="386.18" font-size="12.0" fill="#4d4d4d" text-anchor="end">10</text>
<line x1="286.60" x2="290.20" y1="355.55" y2="355.55" stroke="#3c3c3c" stroke-width="1.3"/>
<text x="283.90" y="359.73" font-size="12.0" fill="#4d4d4d" text-anchor="end">15</text>
<line x1="286.60" x2="290.20" y1="329.10" y2="329.10" stroke="#3c3c3c" stroke-width="1.3"/>
<text x="283.90" y="333.28" font-size="12.0" fill="#4d4d4d" text-anchor="end">20</text>
<line x1="286.60" x2="290.20" y1="302.65" y2="302.65" stroke="#3c3c3c" stroke-width="1.3"/>
<text x="283.90" y="306.83" font-size="12.0" fill="#4d4d4d" text-anchor="end">25</text>
<line x1="286.60" x2="290.20" y1="276.20" y2="276.20" stroke="#3c3c3c" stroke-width="1.3"/>
<text x="283.90" y="280.38" font-size="12.0" fill="#4d4d4d" text-anchor="end">30</text>
<line y1="443.10" y2="446.70" x1="298.00" x2="298.00" stroke="#3c3c3c" stroke-width="1.3"/>
<text x="298.00" y="458.30" font-size="12.0" fill="#4d4d4d" text-anchor="middle">0</text>
<line y1="443.10" y2="446.70" x1="349.83" x2="349.83" stroke="#3c3c3c" stroke-width="1.3"/>
<text x="349.83" y="458.30" font-size="12.0" fill="#4d4d4d" text-anchor="middle">1</text>
<line y1="443.10" y2="446.70" x1="401.66" x2="401.66" stroke="#3c3c3c" stroke-width="1.3"/>
<text x="401.66" y="458.30" font-size="12.0" fill="#4d4d4d" text-anchor="middle">2</text>
<line y1="443.10" y2="446.70" x1="453.49" x2="453.49" stroke="#3c3c3c" stroke-width="1.3"/>
<text x="453.49" y="458.30" font-size="12.0" fill="#4d4d4d" text-anchor="middle">3</text>
<text x="375.90" y="475.20" font-size="15.0" fill="#111" text-anchor="middle">Years</text>
<text transform="translate(263.50,352.75) rotate(-90)" font-size="15.0" fill="#111" text-anchor="middle">MMSE score</text>
<text x="250.40" y="271.40" font-size="14.3" font-weight="bold" fill="#000">E</text>
</g>
<text transform="translate(16.4,124.8) rotate(-90)" font-size="14.8" font-weight="bold" fill="#0000ff" text-anchor="middle">DDI</text>
<text transform="translate(16.2,370.0) rotate(-90)" font-size="15.0" font-weight="bold" fill="#0000ff" text-anchor="middle">Biodegmar</text>
</svg>
</body></html>
